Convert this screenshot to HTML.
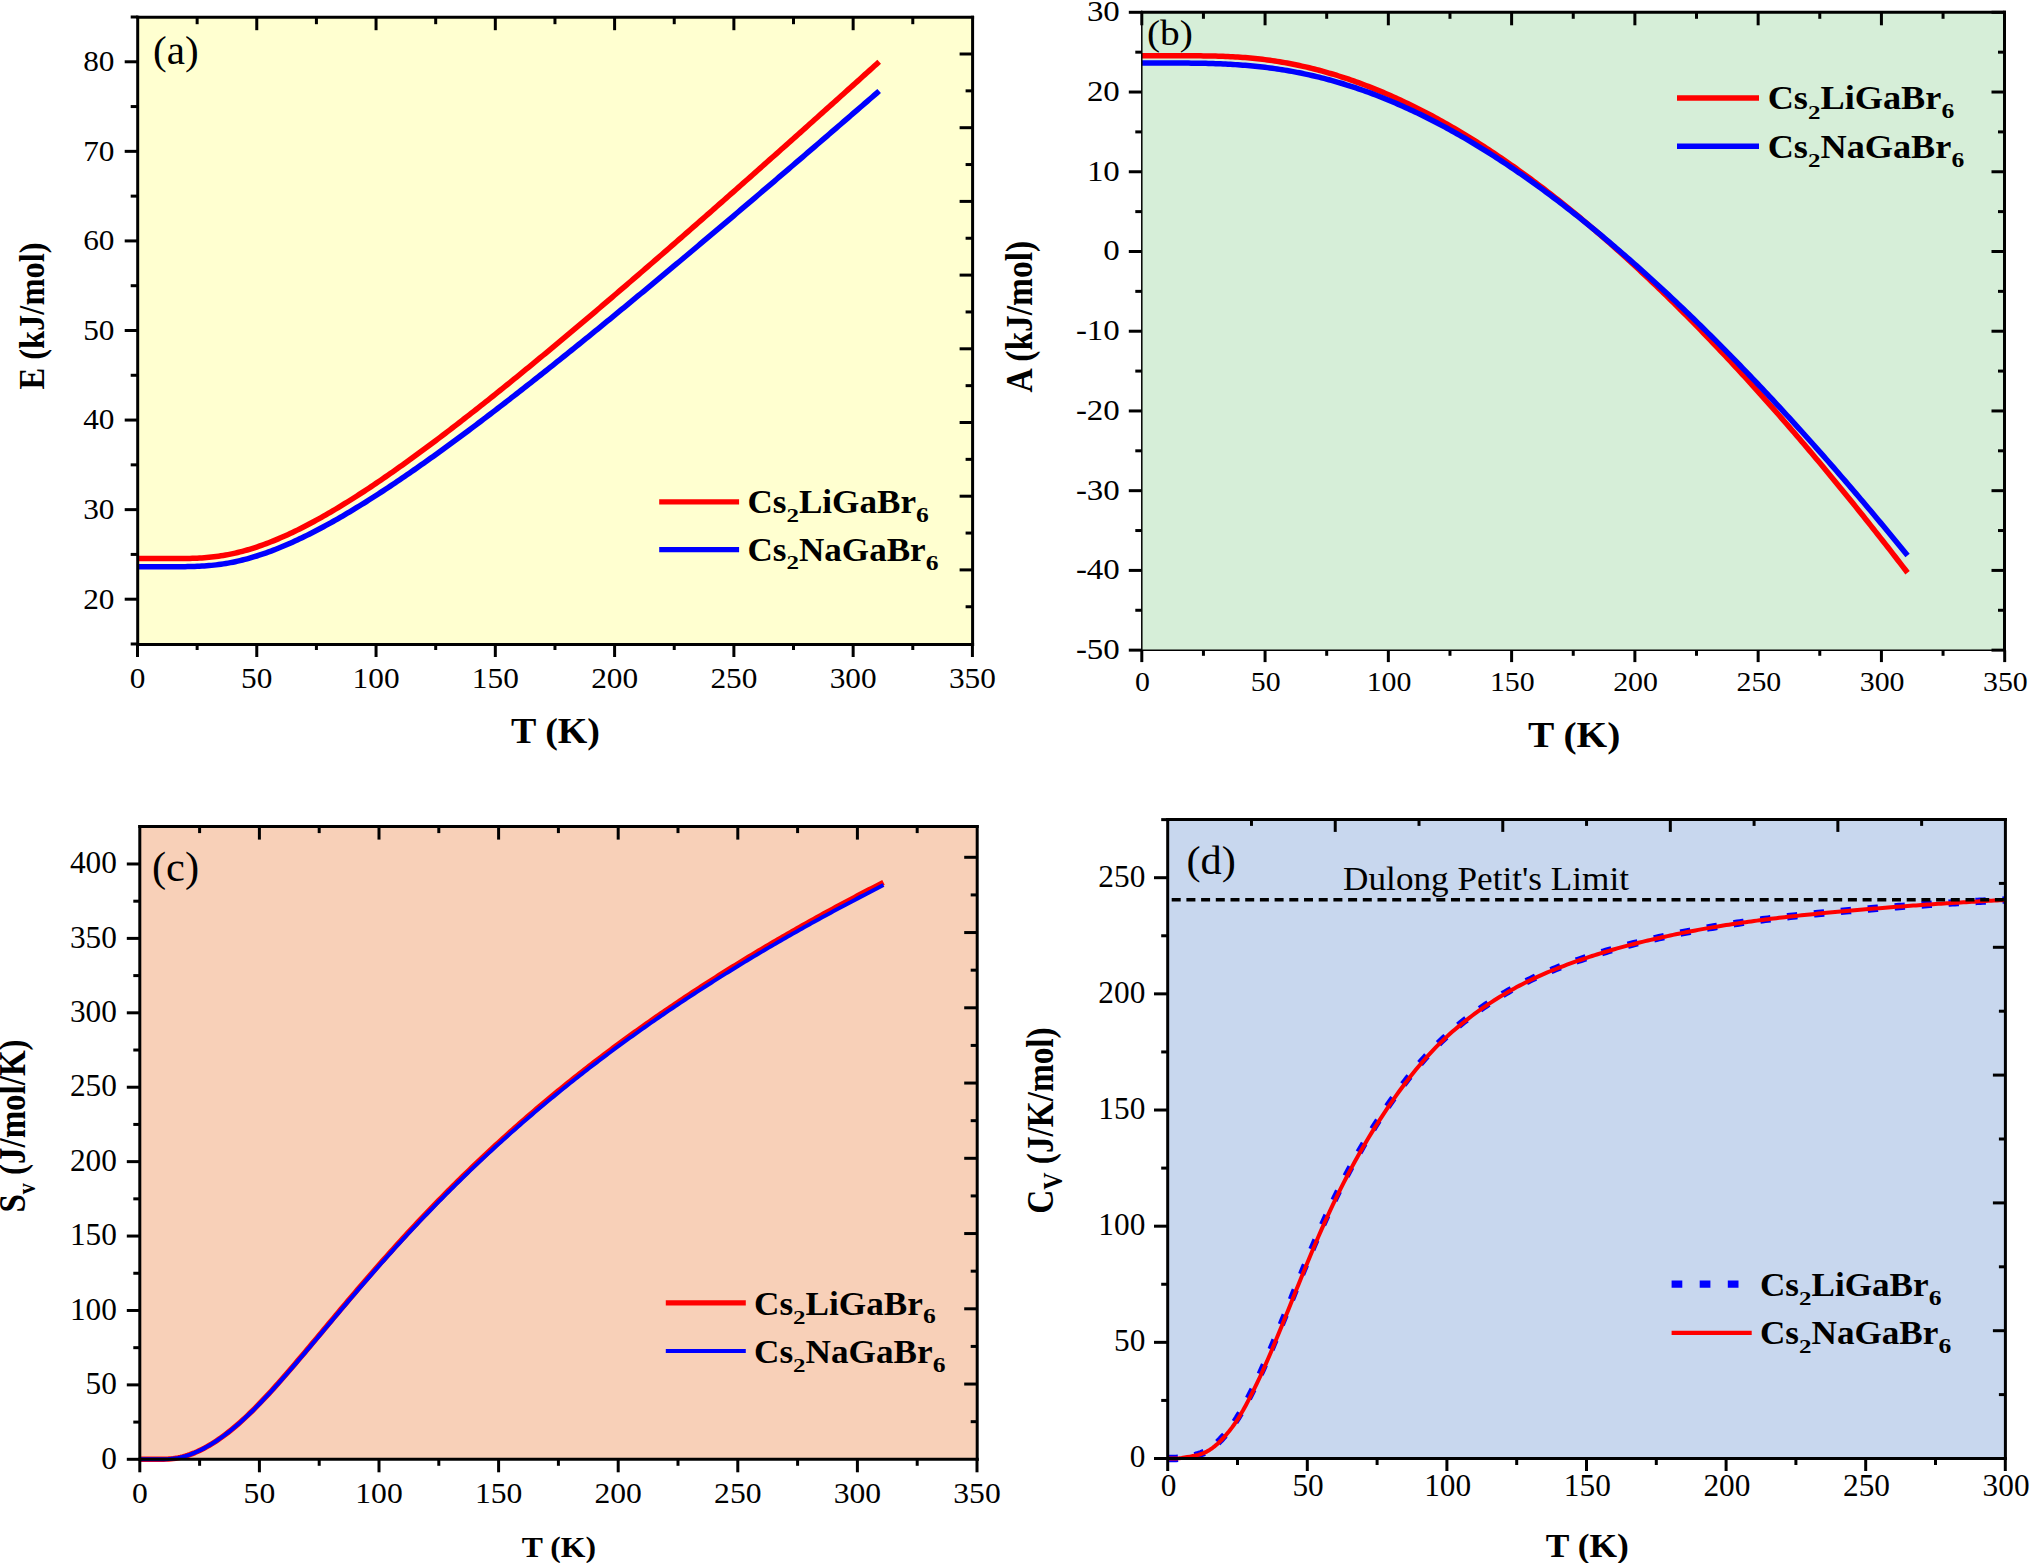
<!DOCTYPE html>
<html><head><meta charset="utf-8"><title>Thermodynamic properties</title><style>html,body{margin:0;padding:0;background:#fff;}svg{display:block;}</style></head><body><svg width="2029" height="1563" viewBox="0 0 2029 1563" font-family="'Liberation Serif', 'Times New Roman', serif" fill="#000">
<rect x="137.7" y="17.2" width="834.9" height="627.2" fill="#ffffd0"/>
<path d="M137.5 558.55 L139.88 558.55 L142.27 558.55 L144.65 558.55 L147.04 558.55 L149.42 558.55 L151.81 558.55 L154.19 558.55 L156.58 558.55 L158.96 558.55 L161.35 558.55 L163.73 558.55 L166.12 558.55 L168.5 558.55 L170.89 558.55 L173.27 558.55 L175.66 558.54 L178.04 558.53 L180.43 558.52 L182.81 558.5 L185.19 558.47 L187.58 558.43 L189.96 558.38 L192.35 558.32 L194.73 558.24 L197.12 558.14 L199.5 558.02 L201.89 557.88 L204.27 557.71 L206.66 557.52 L209.04 557.31 L211.43 557.07 L213.81 556.8 L216.2 556.51 L218.58 556.18 L220.97 555.83 L223.35 555.44 L225.74 555.03 L228.12 554.59 L230.5 554.12 L232.89 553.61 L235.27 553.08 L237.66 552.52 L240.04 551.93 L242.43 551.31 L244.81 550.67 L247.2 549.99 L249.58 549.29 L251.97 548.56 L254.35 547.8 L256.74 547.02 L259.12 546.21 L261.51 545.37 L263.89 544.51 L266.28 543.63 L268.66 542.72 L271.05 541.79 L273.43 540.83 L275.81 539.86 L278.2 538.86 L280.58 537.83 L282.97 536.79 L285.35 535.73 L287.74 534.64 L290.12 533.54 L292.51 532.41 L294.89 531.27 L297.28 530.11 L299.66 528.93 L302.05 527.73 L304.43 526.51 L306.82 525.28 L309.2 524.03 L311.59 522.76 L313.97 521.47 L316.35 520.17 L318.74 518.86 L321.12 517.53 L323.51 516.18 L325.89 514.82 L328.28 513.45 L330.66 512.06 L333.05 510.66 L335.43 509.25 L337.82 507.82 L340.2 506.38 L342.59 504.92 L344.97 503.46 L347.36 501.98 L349.74 500.49 L352.13 498.99 L354.51 497.48 L356.9 495.95 L359.28 494.42 L361.66 492.87 L364.05 491.32 L366.43 489.75 L368.82 488.17 L371.2 486.59 L373.59 484.99 L375.97 483.39 L378.36 481.77 L380.74 480.15 L383.13 478.52 L385.51 476.88 L387.9 475.23 L390.28 473.57 L392.67 471.91 L395.05 470.23 L397.44 468.55 L399.82 466.86 L402.21 465.16 L404.59 463.46 L406.97 461.75 L409.36 460.03 L411.74 458.3 L414.13 456.57 L416.51 454.83 L418.9 453.08 L421.28 451.33 L423.67 449.57 L426.05 447.81 L428.44 446.04 L430.82 444.26 L433.21 442.47 L435.59 440.69 L437.98 438.89 L440.36 437.09 L442.75 435.28 L445.13 433.47 L447.52 431.65 L449.9 429.83 L452.28 428 L454.67 426.17 L457.05 424.33 L459.44 422.49 L461.82 420.65 L464.21 418.79 L466.59 416.94 L468.98 415.08 L471.36 413.21 L473.75 411.34 L476.13 409.47 L478.52 407.59 L480.9 405.71 L483.29 403.82 L485.67 401.93 L488.06 400.03 L490.44 398.14 L492.83 396.23 L495.21 394.33 L497.59 392.42 L499.98 390.5 L502.36 388.59 L504.75 386.67 L507.13 384.74 L509.52 382.81 L511.9 380.88 L514.29 378.95 L516.67 377.01 L519.06 375.07 L521.44 373.13 L523.83 371.18 L526.21 369.23 L528.6 367.28 L530.98 365.32 L533.37 363.36 L535.75 361.4 L538.14 359.43 L540.52 357.47 L542.9 355.5 L545.29 353.52 L547.67 351.55 L550.06 349.57 L552.44 347.59 L554.83 345.6 L557.21 343.62 L559.6 341.63 L561.98 339.64 L564.37 337.65 L566.75 335.65 L569.14 333.65 L571.52 331.65 L573.91 329.65 L576.29 327.64 L578.68 325.64 L581.06 323.63 L583.45 321.62 L585.83 319.6 L588.21 317.59 L590.6 315.57 L592.98 313.55 L595.37 311.53 L597.75 309.5 L600.14 307.48 L602.52 305.45 L604.91 303.42 L607.29 301.39 L609.68 299.35 L612.06 297.32 L614.45 295.28 L616.83 293.24 L619.22 291.2 L621.6 289.16 L623.99 287.12 L626.37 285.07 L628.75 283.02 L631.14 280.98 L633.52 278.93 L635.91 276.87 L638.29 274.82 L640.68 272.76 L643.06 270.71 L645.45 268.65 L647.83 266.59 L650.22 264.53 L652.6 262.47 L654.99 260.4 L657.37 258.34 L659.76 256.27 L662.14 254.2 L664.53 252.13 L666.91 250.06 L669.3 247.99 L671.68 245.91 L674.06 243.84 L676.45 241.76 L678.83 239.68 L681.22 237.61 L683.6 235.53 L685.99 233.44 L688.37 231.36 L690.76 229.28 L693.14 227.19 L695.53 225.11 L697.91 223.02 L700.3 220.93 L702.68 218.84 L705.07 216.75 L707.45 214.66 L709.84 212.57 L712.22 210.47 L714.61 208.38 L716.99 206.28 L719.37 204.18 L721.76 202.08 L724.14 199.99 L726.53 197.89 L728.91 195.78 L731.3 193.68 L733.68 191.58 L736.07 189.47 L738.45 187.37 L740.84 185.26 L743.22 183.16 L745.61 181.05 L747.99 178.94 L750.38 176.83 L752.76 174.72 L755.15 172.61 L757.53 170.49 L759.92 168.38 L762.3 166.27 L764.68 164.15 L767.07 162.04 L769.45 159.92 L771.84 157.8 L774.22 155.68 L776.61 153.57 L778.99 151.45 L781.38 149.32 L783.76 147.2 L786.15 145.08 L788.53 142.96 L790.92 140.83 L793.3 138.71 L795.69 136.58 L798.07 134.46 L800.46 132.33 L802.84 130.2 L805.23 128.08 L807.61 125.95 L809.99 123.82 L812.38 121.69 L814.76 119.56 L817.15 117.43 L819.53 115.29 L821.92 113.16 L824.3 111.03 L826.69 108.89 L829.07 106.76 L831.46 104.62 L833.84 102.49 L836.23 100.35 L838.61 98.21 L841 96.07 L843.38 93.94 L845.77 91.8 L848.15 89.66 L850.54 87.52 L852.92 85.38 L855.3 83.23 L857.69 81.09 L860.07 78.95 L862.46 76.81 L864.84 74.66 L867.23 72.52 L869.61 70.37 L872 68.23 L874.38 66.08 L876.77 63.93 L879.15 61.79" fill="none" stroke="#ff0000" stroke-width="5.5" stroke-linejoin="round"/>
<path d="M137.5 566.7 L139.88 566.7 L142.27 566.7 L144.65 566.7 L147.04 566.7 L149.42 566.7 L151.81 566.7 L154.19 566.7 L156.58 566.7 L158.96 566.7 L161.35 566.7 L163.73 566.7 L166.12 566.7 L168.5 566.7 L170.89 566.7 L173.27 566.7 L175.66 566.69 L178.04 566.68 L180.43 566.67 L182.81 566.66 L185.19 566.63 L187.58 566.6 L189.96 566.55 L192.35 566.5 L194.73 566.43 L197.12 566.34 L199.5 566.23 L201.89 566.11 L204.27 565.96 L206.66 565.79 L209.04 565.6 L211.43 565.38 L213.81 565.13 L216.2 564.86 L218.58 564.56 L220.97 564.24 L223.35 563.88 L225.74 563.5 L228.12 563.09 L230.5 562.65 L232.89 562.18 L235.27 561.69 L237.66 561.16 L240.04 560.61 L242.43 560.03 L244.81 559.43 L247.2 558.79 L249.58 558.13 L251.97 557.45 L254.35 556.73 L256.74 556 L259.12 555.23 L261.51 554.45 L263.89 553.63 L266.28 552.8 L268.66 551.94 L271.05 551.06 L273.43 550.15 L275.81 549.23 L278.2 548.28 L280.58 547.31 L282.97 546.32 L285.35 545.32 L287.74 544.29 L290.12 543.24 L292.51 542.17 L294.89 541.09 L297.28 539.98 L299.66 538.86 L302.05 537.72 L304.43 536.56 L306.82 535.39 L309.2 534.2 L311.59 533 L313.97 531.78 L316.35 530.54 L318.74 529.29 L321.12 528.02 L323.51 526.74 L325.89 525.45 L328.28 524.14 L330.66 522.82 L333.05 521.49 L335.43 520.14 L337.82 518.78 L340.2 517.41 L342.59 516.02 L344.97 514.62 L347.36 513.22 L349.74 511.8 L352.13 510.37 L354.51 508.92 L356.9 507.47 L359.28 506.01 L361.66 504.53 L364.05 503.05 L366.43 501.56 L368.82 500.05 L371.2 498.54 L373.59 497.02 L375.97 495.49 L378.36 493.95 L380.74 492.4 L383.13 490.84 L385.51 489.28 L387.9 487.7 L390.28 486.12 L392.67 484.53 L395.05 482.93 L397.44 481.32 L399.82 479.71 L402.21 478.09 L404.59 476.46 L406.97 474.83 L409.36 473.19 L411.74 471.54 L414.13 469.88 L416.51 468.22 L418.9 466.55 L421.28 464.87 L423.67 463.19 L426.05 461.51 L428.44 459.81 L430.82 458.11 L433.21 456.41 L435.59 454.7 L437.98 452.98 L440.36 451.26 L442.75 449.53 L445.13 447.8 L447.52 446.06 L449.9 444.32 L452.28 442.57 L454.67 440.81 L457.05 439.06 L459.44 437.29 L461.82 435.53 L464.21 433.75 L466.59 431.98 L468.98 430.2 L471.36 428.41 L473.75 426.62 L476.13 424.83 L478.52 423.03 L480.9 421.23 L483.29 419.42 L485.67 417.61 L488.06 415.8 L490.44 413.98 L492.83 412.16 L495.21 410.33 L497.59 408.5 L499.98 406.67 L502.36 404.83 L504.75 402.99 L507.13 401.15 L509.52 399.3 L511.9 397.45 L514.29 395.6 L516.67 393.74 L519.06 391.88 L521.44 390.02 L523.83 388.15 L526.21 386.29 L528.6 384.41 L530.98 382.54 L533.37 380.66 L535.75 378.78 L538.14 376.9 L540.52 375.01 L542.9 373.12 L545.29 371.23 L547.67 369.34 L550.06 367.44 L552.44 365.54 L554.83 363.64 L557.21 361.73 L559.6 359.83 L561.98 357.92 L564.37 356.01 L566.75 354.09 L569.14 352.18 L571.52 350.26 L573.91 348.34 L576.29 346.41 L578.68 344.49 L581.06 342.56 L583.45 340.63 L585.83 338.7 L588.21 336.77 L590.6 334.83 L592.98 332.89 L595.37 330.95 L597.75 329.01 L600.14 327.07 L602.52 325.12 L604.91 323.17 L607.29 321.22 L609.68 319.27 L612.06 317.32 L614.45 315.37 L616.83 313.41 L619.22 311.45 L621.6 309.49 L623.99 307.53 L626.37 305.57 L628.75 303.6 L631.14 301.63 L633.52 299.67 L635.91 297.7 L638.29 295.72 L640.68 293.75 L643.06 291.78 L645.45 289.8 L647.83 287.82 L650.22 285.84 L652.6 283.86 L654.99 281.88 L657.37 279.9 L659.76 277.91 L662.14 275.93 L664.53 273.94 L666.91 271.95 L669.3 269.96 L671.68 267.97 L674.06 265.98 L676.45 263.98 L678.83 261.99 L681.22 259.99 L683.6 257.99 L685.99 256 L688.37 254 L690.76 251.99 L693.14 249.99 L695.53 247.99 L697.91 245.98 L700.3 243.98 L702.68 241.97 L705.07 239.96 L707.45 237.95 L709.84 235.94 L712.22 233.93 L714.61 231.92 L716.99 229.9 L719.37 227.89 L721.76 225.87 L724.14 223.86 L726.53 221.84 L728.91 219.82 L731.3 217.8 L733.68 215.78 L736.07 213.76 L738.45 211.73 L740.84 209.71 L743.22 207.69 L745.61 205.66 L747.99 203.63 L750.38 201.61 L752.76 199.58 L755.15 197.55 L757.53 195.52 L759.92 193.49 L762.3 191.46 L764.68 189.42 L767.07 187.39 L769.45 185.36 L771.84 183.32 L774.22 181.29 L776.61 179.25 L778.99 177.21 L781.38 175.17 L783.76 173.14 L786.15 171.1 L788.53 169.06 L790.92 167.01 L793.3 164.97 L795.69 162.93 L798.07 160.89 L800.46 158.84 L802.84 156.8 L805.23 154.75 L807.61 152.7 L809.99 150.66 L812.38 148.61 L814.76 146.56 L817.15 144.51 L819.53 142.46 L821.92 140.41 L824.3 138.36 L826.69 136.31 L829.07 134.26 L831.46 132.2 L833.84 130.15 L836.23 128.1 L838.61 126.04 L841 123.99 L843.38 121.93 L845.77 119.87 L848.15 117.82 L850.54 115.76 L852.92 113.7 L855.3 111.64 L857.69 109.58 L860.07 107.52 L862.46 105.46 L864.84 103.4 L867.23 101.34 L869.61 99.27 L872 97.21 L874.38 95.15 L876.77 93.08 L879.15 91.02" fill="none" stroke="#0000ff" stroke-width="5.5" stroke-linejoin="round"/>
<line x1="137.7" y1="15.7" x2="137.7" y2="645.9" stroke="#000" stroke-width="3"/>
<line x1="972.6" y1="15.7" x2="972.6" y2="645.9" stroke="#000" stroke-width="3"/>
<line x1="136.2" y1="17.2" x2="974.1" y2="17.2" stroke="#000" stroke-width="3"/>
<line x1="136.2" y1="644.4" x2="974.1" y2="644.4" stroke="#000" stroke-width="3"/>
<line x1="130.7" y1="643.99" x2="137.7" y2="643.99" stroke="#000" stroke-width="3"/>
<line x1="124.7" y1="599.2" x2="137.7" y2="599.2" stroke="#000" stroke-width="3"/>
<line x1="130.7" y1="554.42" x2="137.7" y2="554.42" stroke="#000" stroke-width="3"/>
<line x1="124.7" y1="509.63" x2="137.7" y2="509.63" stroke="#000" stroke-width="3"/>
<line x1="130.7" y1="464.85" x2="137.7" y2="464.85" stroke="#000" stroke-width="3"/>
<line x1="124.7" y1="420.06" x2="137.7" y2="420.06" stroke="#000" stroke-width="3"/>
<line x1="130.7" y1="375.28" x2="137.7" y2="375.28" stroke="#000" stroke-width="3"/>
<line x1="124.7" y1="330.49" x2="137.7" y2="330.49" stroke="#000" stroke-width="3"/>
<line x1="130.7" y1="285.71" x2="137.7" y2="285.71" stroke="#000" stroke-width="3"/>
<line x1="124.7" y1="240.92" x2="137.7" y2="240.92" stroke="#000" stroke-width="3"/>
<line x1="130.7" y1="196.13" x2="137.7" y2="196.13" stroke="#000" stroke-width="3"/>
<line x1="124.7" y1="151.35" x2="137.7" y2="151.35" stroke="#000" stroke-width="3"/>
<line x1="130.7" y1="106.56" x2="137.7" y2="106.56" stroke="#000" stroke-width="3"/>
<line x1="124.7" y1="61.78" x2="137.7" y2="61.78" stroke="#000" stroke-width="3"/>
<line x1="130.7" y1="17" x2="137.7" y2="17" stroke="#000" stroke-width="3"/>
<line x1="965.6" y1="606.75" x2="972.6" y2="606.75" stroke="#000" stroke-width="3"/>
<line x1="959.6" y1="569.9" x2="972.6" y2="569.9" stroke="#000" stroke-width="3"/>
<line x1="965.6" y1="533.05" x2="972.6" y2="533.05" stroke="#000" stroke-width="3"/>
<line x1="959.6" y1="496.2" x2="972.6" y2="496.2" stroke="#000" stroke-width="3"/>
<line x1="965.6" y1="459.35" x2="972.6" y2="459.35" stroke="#000" stroke-width="3"/>
<line x1="959.6" y1="422.5" x2="972.6" y2="422.5" stroke="#000" stroke-width="3"/>
<line x1="965.6" y1="385.65" x2="972.6" y2="385.65" stroke="#000" stroke-width="3"/>
<line x1="959.6" y1="348.8" x2="972.6" y2="348.8" stroke="#000" stroke-width="3"/>
<line x1="965.6" y1="311.95" x2="972.6" y2="311.95" stroke="#000" stroke-width="3"/>
<line x1="959.6" y1="275.1" x2="972.6" y2="275.1" stroke="#000" stroke-width="3"/>
<line x1="965.6" y1="238.25" x2="972.6" y2="238.25" stroke="#000" stroke-width="3"/>
<line x1="959.6" y1="201.4" x2="972.6" y2="201.4" stroke="#000" stroke-width="3"/>
<line x1="965.6" y1="164.55" x2="972.6" y2="164.55" stroke="#000" stroke-width="3"/>
<line x1="959.6" y1="127.7" x2="972.6" y2="127.7" stroke="#000" stroke-width="3"/>
<line x1="965.6" y1="90.85" x2="972.6" y2="90.85" stroke="#000" stroke-width="3"/>
<line x1="959.6" y1="54" x2="972.6" y2="54" stroke="#000" stroke-width="3"/>
<line x1="137.5" y1="644.4" x2="137.5" y2="657" stroke="#000" stroke-width="3"/>
<line x1="197.14" y1="644.4" x2="197.14" y2="650" stroke="#000" stroke-width="3"/>
<line x1="256.77" y1="644.4" x2="256.77" y2="657" stroke="#000" stroke-width="3"/>
<line x1="316.41" y1="644.4" x2="316.41" y2="650" stroke="#000" stroke-width="3"/>
<line x1="376.05" y1="644.4" x2="376.05" y2="657" stroke="#000" stroke-width="3"/>
<line x1="435.69" y1="644.4" x2="435.69" y2="650" stroke="#000" stroke-width="3"/>
<line x1="495.32" y1="644.4" x2="495.32" y2="657" stroke="#000" stroke-width="3"/>
<line x1="554.96" y1="644.4" x2="554.96" y2="650" stroke="#000" stroke-width="3"/>
<line x1="614.6" y1="644.4" x2="614.6" y2="657" stroke="#000" stroke-width="3"/>
<line x1="674.24" y1="644.4" x2="674.24" y2="650" stroke="#000" stroke-width="3"/>
<line x1="733.88" y1="644.4" x2="733.88" y2="657" stroke="#000" stroke-width="3"/>
<line x1="793.51" y1="644.4" x2="793.51" y2="650" stroke="#000" stroke-width="3"/>
<line x1="853.15" y1="644.4" x2="853.15" y2="657" stroke="#000" stroke-width="3"/>
<line x1="912.79" y1="644.4" x2="912.79" y2="650" stroke="#000" stroke-width="3"/>
<line x1="972.42" y1="644.4" x2="972.42" y2="657" stroke="#000" stroke-width="3"/>
<line x1="197.14" y1="17.2" x2="197.14" y2="24.2" stroke="#000" stroke-width="3"/>
<line x1="256.77" y1="17.2" x2="256.77" y2="30.2" stroke="#000" stroke-width="3"/>
<line x1="316.41" y1="17.2" x2="316.41" y2="24.2" stroke="#000" stroke-width="3"/>
<line x1="376.05" y1="17.2" x2="376.05" y2="30.2" stroke="#000" stroke-width="3"/>
<line x1="435.69" y1="17.2" x2="435.69" y2="24.2" stroke="#000" stroke-width="3"/>
<line x1="495.32" y1="17.2" x2="495.32" y2="30.2" stroke="#000" stroke-width="3"/>
<line x1="554.96" y1="17.2" x2="554.96" y2="24.2" stroke="#000" stroke-width="3"/>
<line x1="614.6" y1="17.2" x2="614.6" y2="30.2" stroke="#000" stroke-width="3"/>
<line x1="674.24" y1="17.2" x2="674.24" y2="24.2" stroke="#000" stroke-width="3"/>
<line x1="733.88" y1="17.2" x2="733.88" y2="30.2" stroke="#000" stroke-width="3"/>
<line x1="793.51" y1="17.2" x2="793.51" y2="24.2" stroke="#000" stroke-width="3"/>
<line x1="853.15" y1="17.2" x2="853.15" y2="30.2" stroke="#000" stroke-width="3"/>
<line x1="912.79" y1="17.2" x2="912.79" y2="24.2" stroke="#000" stroke-width="3"/>
<text transform="translate(114.5,608.6) scale(1.03,1)" font-size="30.4" text-anchor="end" >20</text>
<text transform="translate(114.5,519.03) scale(1.03,1)" font-size="30.4" text-anchor="end" >30</text>
<text transform="translate(114.5,429.46) scale(1.03,1)" font-size="30.4" text-anchor="end" >40</text>
<text transform="translate(114.5,339.89) scale(1.03,1)" font-size="30.4" text-anchor="end" >50</text>
<text transform="translate(114.5,250.32) scale(1.03,1)" font-size="30.4" text-anchor="end" >60</text>
<text transform="translate(114.5,160.75) scale(1.03,1)" font-size="30.4" text-anchor="end" >70</text>
<text transform="translate(114.5,71.18) scale(1.03,1)" font-size="30.4" text-anchor="end" >80</text>
<text transform="translate(137.5,687.5) scale(1.03,1)" font-size="30.4" text-anchor="middle" >0</text>
<text transform="translate(256.77,687.5) scale(1.03,1)" font-size="30.4" text-anchor="middle" >50</text>
<text transform="translate(376.05,687.5) scale(1.03,1)" font-size="30.4" text-anchor="middle" >100</text>
<text transform="translate(495.32,687.5) scale(1.03,1)" font-size="30.4" text-anchor="middle" >150</text>
<text transform="translate(614.6,687.5) scale(1.03,1)" font-size="30.4" text-anchor="middle" >200</text>
<text transform="translate(733.88,687.5) scale(1.03,1)" font-size="30.4" text-anchor="middle" >250</text>
<text transform="translate(853.15,687.5) scale(1.03,1)" font-size="30.4" text-anchor="middle" >300</text>
<text transform="translate(972.42,687.5) scale(1.03,1)" font-size="30.4" text-anchor="middle" >350</text>
<text transform="translate(153,63.8) scale(1.04,1)" font-size="39.5" text-anchor="start" >(a)</text>
<text transform="translate(44,316) rotate(-90) scale(1,1.12)" font-size="32.5" text-anchor="middle" font-weight="bold" >E (kJ/mol)</text>
<text transform="translate(555.5,743.1) scale(1.044,1)" font-size="36.4" text-anchor="middle" font-weight="bold" >T (K)</text>
<line x1="659.2" y1="501.8" x2="739.1" y2="501.8" stroke="#ff0000" stroke-width="5.3"/>
<line x1="659.2" y1="549.6" x2="739.1" y2="549.6" stroke="#0000ff" stroke-width="5.3"/>
<text transform="translate(747.4,513.3) scale(1.033,1)" font-size="34" text-anchor="start" font-weight="bold" >Cs</text>
<text transform="translate(786.43,521.7) scale(1.33,1)" font-size="18.8" text-anchor="start" font-weight="bold" >2</text>
<text transform="translate(798.94,513.3) scale(1.033,1)" font-size="34" text-anchor="start" font-weight="bold" >LiGaBr</text>
<text transform="translate(916.02,521.9) scale(1.2,1)" font-size="21.3" text-anchor="start" font-weight="bold" >6</text>
<text transform="translate(747.4,561) scale(1.033,1)" font-size="34" text-anchor="start" font-weight="bold" >Cs</text>
<text transform="translate(786.43,569.4) scale(1.33,1)" font-size="18.8" text-anchor="start" font-weight="bold" >2</text>
<text transform="translate(798.94,561) scale(1.033,1)" font-size="34" text-anchor="start" font-weight="bold" >NaGaBr</text>
<text transform="translate(925.76,569.6) scale(1.2,1)" font-size="21.3" text-anchor="start" font-weight="bold" >6</text>
<rect x="1141.8" y="12.3" width="862.7" height="638" fill="#d6eed8"/>
<path d="M1141.8 55.79 L1144.26 55.79 L1146.72 55.79 L1149.19 55.79 L1151.65 55.79 L1154.11 55.79 L1156.57 55.79 L1159.04 55.79 L1161.5 55.79 L1163.96 55.79 L1166.42 55.79 L1168.88 55.79 L1171.35 55.79 L1173.81 55.79 L1176.27 55.79 L1178.73 55.79 L1181.2 55.79 L1183.66 55.79 L1186.12 55.79 L1188.58 55.8 L1191.04 55.8 L1193.51 55.81 L1195.97 55.82 L1198.43 55.84 L1200.89 55.86 L1203.36 55.88 L1205.82 55.91 L1208.28 55.94 L1210.74 55.99 L1213.2 56.03 L1215.67 56.09 L1218.13 56.16 L1220.59 56.23 L1223.05 56.32 L1225.52 56.41 L1227.98 56.52 L1230.44 56.63 L1232.9 56.76 L1235.36 56.9 L1237.83 57.05 L1240.29 57.22 L1242.75 57.4 L1245.21 57.59 L1247.68 57.79 L1250.14 58.01 L1252.6 58.25 L1255.06 58.49 L1257.52 58.76 L1259.99 59.03 L1262.45 59.32 L1264.91 59.63 L1267.37 59.95 L1269.84 60.29 L1272.3 60.64 L1274.76 61.01 L1277.22 61.39 L1279.68 61.79 L1282.15 62.2 L1284.61 62.63 L1287.07 63.07 L1289.53 63.54 L1292 64.01 L1294.46 64.5 L1296.92 65.01 L1299.38 65.53 L1301.84 66.07 L1304.31 66.62 L1306.77 67.19 L1309.23 67.78 L1311.69 68.38 L1314.16 68.99 L1316.62 69.63 L1319.08 70.27 L1321.54 70.94 L1324 71.61 L1326.47 72.31 L1328.93 73.02 L1331.39 73.74 L1333.85 74.48 L1336.32 75.23 L1338.78 76 L1341.24 76.79 L1343.7 77.59 L1346.17 78.4 L1348.63 79.23 L1351.09 80.08 L1353.55 80.94 L1356.01 81.81 L1358.48 82.7 L1360.94 83.6 L1363.4 84.52 L1365.86 85.46 L1368.33 86.4 L1370.79 87.37 L1373.25 88.34 L1375.71 89.34 L1378.17 90.34 L1380.64 91.36 L1383.1 92.4 L1385.56 93.45 L1388.02 94.51 L1390.49 95.59 L1392.95 96.68 L1395.41 97.79 L1397.87 98.91 L1400.33 100.05 L1402.8 101.19 L1405.26 102.36 L1407.72 103.53 L1410.18 104.72 L1412.65 105.93 L1415.11 107.15 L1417.57 108.38 L1420.03 109.62 L1422.49 110.88 L1424.96 112.15 L1427.42 113.44 L1429.88 114.74 L1432.34 116.05 L1434.81 117.38 L1437.27 118.72 L1439.73 120.07 L1442.19 121.44 L1444.65 122.82 L1447.12 124.21 L1449.58 125.61 L1452.04 127.03 L1454.5 128.47 L1456.97 129.91 L1459.43 131.37 L1461.89 132.84 L1464.35 134.32 L1466.81 135.82 L1469.28 137.33 L1471.74 138.85 L1474.2 140.38 L1476.66 141.93 L1479.13 143.49 L1481.59 145.06 L1484.05 146.65 L1486.51 148.24 L1488.97 149.85 L1491.44 151.47 L1493.9 153.11 L1496.36 154.76 L1498.82 156.41 L1501.29 158.08 L1503.75 159.77 L1506.21 161.46 L1508.67 163.17 L1511.13 164.89 L1513.6 166.62 L1516.06 168.36 L1518.52 170.12 L1520.98 171.88 L1523.45 173.66 L1525.91 175.45 L1528.37 177.25 L1530.83 179.07 L1533.29 180.89 L1535.76 182.73 L1538.22 184.58 L1540.68 186.44 L1543.14 188.31 L1545.61 190.19 L1548.07 192.09 L1550.53 193.99 L1552.99 195.91 L1555.45 197.84 L1557.92 199.77 L1560.38 201.73 L1562.84 203.69 L1565.3 205.66 L1567.77 207.64 L1570.23 209.64 L1572.69 211.64 L1575.15 213.66 L1577.61 215.69 L1580.08 217.73 L1582.54 219.78 L1585 221.84 L1587.46 223.91 L1589.93 225.99 L1592.39 228.08 L1594.85 230.18 L1597.31 232.3 L1599.77 234.42 L1602.24 236.56 L1604.7 238.7 L1607.16 240.86 L1609.62 243.02 L1612.09 245.2 L1614.55 247.39 L1617.01 249.58 L1619.47 251.79 L1621.93 254.01 L1624.4 256.24 L1626.86 258.48 L1629.32 260.72 L1631.78 262.98 L1634.25 265.25 L1636.71 267.53 L1639.17 269.82 L1641.63 272.12 L1644.09 274.43 L1646.56 276.74 L1649.02 279.07 L1651.48 281.41 L1653.94 283.76 L1656.41 286.12 L1658.87 288.48 L1661.33 290.86 L1663.79 293.25 L1666.25 295.64 L1668.72 298.05 L1671.18 300.47 L1673.64 302.89 L1676.1 305.33 L1678.57 307.77 L1681.03 310.22 L1683.49 312.69 L1685.95 315.16 L1688.41 317.64 L1690.88 320.13 L1693.34 322.63 L1695.8 325.14 L1698.26 327.66 L1700.73 330.19 L1703.19 332.73 L1705.65 335.28 L1708.11 337.83 L1710.57 340.4 L1713.04 342.97 L1715.5 345.55 L1717.96 348.15 L1720.42 350.75 L1722.89 353.36 L1725.35 355.98 L1727.81 358.6 L1730.27 361.24 L1732.73 363.89 L1735.2 366.54 L1737.66 369.2 L1740.12 371.88 L1742.58 374.56 L1745.05 377.25 L1747.51 379.94 L1749.97 382.65 L1752.43 385.37 L1754.9 388.09 L1757.36 390.82 L1759.82 393.56 L1762.28 396.31 L1764.74 399.07 L1767.21 401.84 L1769.67 404.61 L1772.13 407.4 L1774.59 410.19 L1777.06 412.99 L1779.52 415.8 L1781.98 418.61 L1784.44 421.44 L1786.9 424.27 L1789.37 427.11 L1791.83 429.96 L1794.29 432.82 L1796.75 435.69 L1799.22 438.56 L1801.68 441.45 L1804.14 444.34 L1806.6 447.23 L1809.06 450.14 L1811.53 453.06 L1813.99 455.98 L1816.45 458.91 L1818.91 461.85 L1821.38 464.79 L1823.84 467.75 L1826.3 470.71 L1828.76 473.68 L1831.22 476.66 L1833.69 479.64 L1836.15 482.64 L1838.61 485.64 L1841.07 488.65 L1843.54 491.67 L1846 494.69 L1848.46 497.72 L1850.92 500.76 L1853.38 503.81 L1855.85 506.86 L1858.31 509.93 L1860.77 513 L1863.23 516.08 L1865.7 519.16 L1868.16 522.25 L1870.62 525.35 L1873.08 528.46 L1875.54 531.58 L1878.01 534.7 L1880.47 537.83 L1882.93 540.97 L1885.39 544.11 L1887.86 547.26 L1890.32 550.42 L1892.78 553.59 L1895.24 556.76 L1897.7 559.95 L1900.17 563.13 L1902.63 566.33 L1905.09 569.53 L1907.55 572.74" fill="none" stroke="#ff0000" stroke-width="5.5" stroke-linejoin="round"/>
<path d="M1141.8 63.06 L1144.26 63.06 L1146.72 63.06 L1149.19 63.06 L1151.65 63.06 L1154.11 63.06 L1156.57 63.06 L1159.04 63.06 L1161.5 63.06 L1163.96 63.06 L1166.42 63.06 L1168.88 63.06 L1171.35 63.06 L1173.81 63.06 L1176.27 63.07 L1178.73 63.07 L1181.2 63.08 L1183.66 63.09 L1186.12 63.1 L1188.58 63.12 L1191.04 63.14 L1193.51 63.16 L1195.97 63.19 L1198.43 63.22 L1200.89 63.27 L1203.36 63.31 L1205.82 63.36 L1208.28 63.42 L1210.74 63.49 L1213.2 63.57 L1215.67 63.65 L1218.13 63.74 L1220.59 63.84 L1223.05 63.94 L1225.52 64.06 L1227.98 64.19 L1230.44 64.32 L1232.9 64.46 L1235.36 64.62 L1237.83 64.78 L1240.29 64.96 L1242.75 65.14 L1245.21 65.34 L1247.68 65.55 L1250.14 65.77 L1252.6 66 L1255.06 66.24 L1257.52 66.49 L1259.99 66.76 L1262.45 67.04 L1264.91 67.33 L1267.37 67.64 L1269.84 67.95 L1272.3 68.28 L1274.76 68.63 L1277.22 68.98 L1279.68 69.36 L1282.15 69.74 L1284.61 70.14 L1287.07 70.55 L1289.53 70.97 L1292 71.41 L1294.46 71.87 L1296.92 72.34 L1299.38 72.82 L1301.84 73.31 L1304.31 73.83 L1306.77 74.35 L1309.23 74.89 L1311.69 75.45 L1314.16 76.02 L1316.62 76.6 L1319.08 77.2 L1321.54 77.81 L1324 78.44 L1326.47 79.08 L1328.93 79.74 L1331.39 80.41 L1333.85 81.1 L1336.32 81.8 L1338.78 82.52 L1341.24 83.25 L1343.7 84 L1346.17 84.76 L1348.63 85.54 L1351.09 86.33 L1353.55 87.13 L1356.01 87.95 L1358.48 88.79 L1360.94 89.64 L1363.4 90.5 L1365.86 91.38 L1368.33 92.27 L1370.79 93.18 L1373.25 94.1 L1375.71 95.04 L1378.17 95.99 L1380.64 96.96 L1383.1 97.94 L1385.56 98.93 L1388.02 99.94 L1390.49 100.96 L1392.95 102 L1395.41 103.05 L1397.87 104.11 L1400.33 105.19 L1402.8 106.29 L1405.26 107.39 L1407.72 108.51 L1410.18 109.65 L1412.65 110.8 L1415.11 111.96 L1417.57 113.13 L1420.03 114.32 L1422.49 115.53 L1424.96 116.74 L1427.42 117.97 L1429.88 119.21 L1432.34 120.47 L1434.81 121.74 L1437.27 123.02 L1439.73 124.32 L1442.19 125.63 L1444.65 126.95 L1447.12 128.28 L1449.58 129.63 L1452.04 130.99 L1454.5 132.37 L1456.97 133.75 L1459.43 135.15 L1461.89 136.56 L1464.35 137.99 L1466.81 139.43 L1469.28 140.88 L1471.74 142.34 L1474.2 143.81 L1476.66 145.3 L1479.13 146.8 L1481.59 148.31 L1484.05 149.83 L1486.51 151.37 L1488.97 152.91 L1491.44 154.47 L1493.9 156.04 L1496.36 157.63 L1498.82 159.22 L1501.29 160.83 L1503.75 162.45 L1506.21 164.08 L1508.67 165.72 L1511.13 167.37 L1513.6 169.04 L1516.06 170.71 L1518.52 172.4 L1520.98 174.1 L1523.45 175.81 L1525.91 177.53 L1528.37 179.27 L1530.83 181.01 L1533.29 182.77 L1535.76 184.53 L1538.22 186.31 L1540.68 188.1 L1543.14 189.9 L1545.61 191.71 L1548.07 193.53 L1550.53 195.36 L1552.99 197.2 L1555.45 199.06 L1557.92 200.92 L1560.38 202.8 L1562.84 204.68 L1565.3 206.58 L1567.77 208.48 L1570.23 210.4 L1572.69 212.32 L1575.15 214.26 L1577.61 216.21 L1580.08 218.17 L1582.54 220.13 L1585 222.11 L1587.46 224.1 L1589.93 226.1 L1592.39 228.11 L1594.85 230.13 L1597.31 232.15 L1599.77 234.19 L1602.24 236.24 L1604.7 238.3 L1607.16 240.36 L1609.62 242.44 L1612.09 244.53 L1614.55 246.63 L1617.01 248.73 L1619.47 250.85 L1621.93 252.97 L1624.4 255.11 L1626.86 257.25 L1629.32 259.4 L1631.78 261.57 L1634.25 263.74 L1636.71 265.92 L1639.17 268.11 L1641.63 270.31 L1644.09 272.52 L1646.56 274.74 L1649.02 276.97 L1651.48 279.2 L1653.94 281.45 L1656.41 283.71 L1658.87 285.97 L1661.33 288.24 L1663.79 290.52 L1666.25 292.81 L1668.72 295.11 L1671.18 297.42 L1673.64 299.74 L1676.1 302.06 L1678.57 304.4 L1681.03 306.74 L1683.49 309.09 L1685.95 311.45 L1688.41 313.82 L1690.88 316.2 L1693.34 318.58 L1695.8 320.98 L1698.26 323.38 L1700.73 325.79 L1703.19 328.21 L1705.65 330.64 L1708.11 333.08 L1710.57 335.52 L1713.04 337.97 L1715.5 340.43 L1717.96 342.9 L1720.42 345.38 L1722.89 347.87 L1725.35 350.36 L1727.81 352.86 L1730.27 355.37 L1732.73 357.89 L1735.2 360.41 L1737.66 362.95 L1740.12 365.49 L1742.58 368.04 L1745.05 370.59 L1747.51 373.16 L1749.97 375.73 L1752.43 378.31 L1754.9 380.9 L1757.36 383.5 L1759.82 386.1 L1762.28 388.71 L1764.74 391.33 L1767.21 393.96 L1769.67 396.59 L1772.13 399.24 L1774.59 401.89 L1777.06 404.54 L1779.52 407.21 L1781.98 409.88 L1784.44 412.56 L1786.9 415.25 L1789.37 417.94 L1791.83 420.64 L1794.29 423.35 L1796.75 426.07 L1799.22 428.79 L1801.68 431.52 L1804.14 434.26 L1806.6 437.01 L1809.06 439.76 L1811.53 442.52 L1813.99 445.29 L1816.45 448.06 L1818.91 450.84 L1821.38 453.63 L1823.84 456.42 L1826.3 459.23 L1828.76 462.04 L1831.22 464.85 L1833.69 467.68 L1836.15 470.51 L1838.61 473.34 L1841.07 476.19 L1843.54 479.04 L1846 481.9 L1848.46 484.76 L1850.92 487.63 L1853.38 490.51 L1855.85 493.4 L1858.31 496.29 L1860.77 499.19 L1863.23 502.09 L1865.7 505 L1868.16 507.92 L1870.62 510.85 L1873.08 513.78 L1875.54 516.72 L1878.01 519.66 L1880.47 522.62 L1882.93 525.57 L1885.39 528.54 L1887.86 531.51 L1890.32 534.49 L1892.78 537.47 L1895.24 540.46 L1897.7 543.46 L1900.17 546.46 L1902.63 549.47 L1905.09 552.49 L1907.55 555.51" fill="none" stroke="#0000ff" stroke-width="5.5" stroke-linejoin="round"/>
<line x1="1141.8" y1="10.8" x2="1141.8" y2="651.05" stroke="#000" stroke-width="1.5"/>
<line x1="2004.5" y1="10.8" x2="2004.5" y2="651.05" stroke="#000" stroke-width="3"/>
<line x1="1141.05" y1="12.3" x2="2006" y2="12.3" stroke="#000" stroke-width="3"/>
<line x1="1141.05" y1="650.3" x2="2006" y2="650.3" stroke="#000" stroke-width="1.5"/>
<line x1="1128.8" y1="650.14" x2="1141.8" y2="650.14" stroke="#000" stroke-width="3"/>
<line x1="1135.3" y1="610.27" x2="1141.8" y2="610.27" stroke="#000" stroke-width="3"/>
<line x1="1128.8" y1="570.41" x2="1141.8" y2="570.41" stroke="#000" stroke-width="3"/>
<line x1="1135.3" y1="530.54" x2="1141.8" y2="530.54" stroke="#000" stroke-width="3"/>
<line x1="1128.8" y1="490.68" x2="1141.8" y2="490.68" stroke="#000" stroke-width="3"/>
<line x1="1135.3" y1="450.81" x2="1141.8" y2="450.81" stroke="#000" stroke-width="3"/>
<line x1="1128.8" y1="410.95" x2="1141.8" y2="410.95" stroke="#000" stroke-width="3"/>
<line x1="1135.3" y1="371.08" x2="1141.8" y2="371.08" stroke="#000" stroke-width="3"/>
<line x1="1128.8" y1="331.22" x2="1141.8" y2="331.22" stroke="#000" stroke-width="3"/>
<line x1="1135.3" y1="291.36" x2="1141.8" y2="291.36" stroke="#000" stroke-width="3"/>
<line x1="1128.8" y1="251.49" x2="1141.8" y2="251.49" stroke="#000" stroke-width="3"/>
<line x1="1135.3" y1="211.62" x2="1141.8" y2="211.62" stroke="#000" stroke-width="3"/>
<line x1="1128.8" y1="171.76" x2="1141.8" y2="171.76" stroke="#000" stroke-width="3"/>
<line x1="1135.3" y1="131.9" x2="1141.8" y2="131.9" stroke="#000" stroke-width="3"/>
<line x1="1128.8" y1="92.03" x2="1141.8" y2="92.03" stroke="#000" stroke-width="3"/>
<line x1="1135.3" y1="52.17" x2="1141.8" y2="52.17" stroke="#000" stroke-width="3"/>
<line x1="1128.8" y1="12.3" x2="1141.8" y2="12.3" stroke="#000" stroke-width="3"/>
<line x1="1991.5" y1="650.14" x2="2004.5" y2="650.14" stroke="#000" stroke-width="3"/>
<line x1="1998" y1="610.27" x2="2004.5" y2="610.27" stroke="#000" stroke-width="3"/>
<line x1="1991.5" y1="570.41" x2="2004.5" y2="570.41" stroke="#000" stroke-width="3"/>
<line x1="1998" y1="530.54" x2="2004.5" y2="530.54" stroke="#000" stroke-width="3"/>
<line x1="1991.5" y1="490.68" x2="2004.5" y2="490.68" stroke="#000" stroke-width="3"/>
<line x1="1998" y1="450.81" x2="2004.5" y2="450.81" stroke="#000" stroke-width="3"/>
<line x1="1991.5" y1="410.95" x2="2004.5" y2="410.95" stroke="#000" stroke-width="3"/>
<line x1="1998" y1="371.08" x2="2004.5" y2="371.08" stroke="#000" stroke-width="3"/>
<line x1="1991.5" y1="331.22" x2="2004.5" y2="331.22" stroke="#000" stroke-width="3"/>
<line x1="1998" y1="291.36" x2="2004.5" y2="291.36" stroke="#000" stroke-width="3"/>
<line x1="1991.5" y1="251.49" x2="2004.5" y2="251.49" stroke="#000" stroke-width="3"/>
<line x1="1998" y1="211.62" x2="2004.5" y2="211.62" stroke="#000" stroke-width="3"/>
<line x1="1991.5" y1="171.76" x2="2004.5" y2="171.76" stroke="#000" stroke-width="3"/>
<line x1="1998" y1="131.9" x2="2004.5" y2="131.9" stroke="#000" stroke-width="3"/>
<line x1="1991.5" y1="92.03" x2="2004.5" y2="92.03" stroke="#000" stroke-width="3"/>
<line x1="1998" y1="52.17" x2="2004.5" y2="52.17" stroke="#000" stroke-width="3"/>
<line x1="1991.5" y1="12.3" x2="2004.5" y2="12.3" stroke="#000" stroke-width="3"/>
<line x1="1141.8" y1="650.3" x2="1141.8" y2="662.1" stroke="#000" stroke-width="3"/>
<line x1="1203.43" y1="650.3" x2="1203.43" y2="655.8" stroke="#000" stroke-width="3"/>
<line x1="1265.07" y1="650.3" x2="1265.07" y2="662.1" stroke="#000" stroke-width="3"/>
<line x1="1326.7" y1="650.3" x2="1326.7" y2="655.8" stroke="#000" stroke-width="3"/>
<line x1="1388.34" y1="650.3" x2="1388.34" y2="662.1" stroke="#000" stroke-width="3"/>
<line x1="1449.97" y1="650.3" x2="1449.97" y2="655.8" stroke="#000" stroke-width="3"/>
<line x1="1511.61" y1="650.3" x2="1511.61" y2="662.1" stroke="#000" stroke-width="3"/>
<line x1="1573.24" y1="650.3" x2="1573.24" y2="655.8" stroke="#000" stroke-width="3"/>
<line x1="1634.88" y1="650.3" x2="1634.88" y2="662.1" stroke="#000" stroke-width="3"/>
<line x1="1696.51" y1="650.3" x2="1696.51" y2="655.8" stroke="#000" stroke-width="3"/>
<line x1="1758.15" y1="650.3" x2="1758.15" y2="662.1" stroke="#000" stroke-width="3"/>
<line x1="1819.78" y1="650.3" x2="1819.78" y2="655.8" stroke="#000" stroke-width="3"/>
<line x1="1881.42" y1="650.3" x2="1881.42" y2="662.1" stroke="#000" stroke-width="3"/>
<line x1="1943.05" y1="650.3" x2="1943.05" y2="655.8" stroke="#000" stroke-width="3"/>
<line x1="2004.69" y1="650.3" x2="2004.69" y2="662.1" stroke="#000" stroke-width="3"/>
<line x1="1141.8" y1="12.3" x2="1141.8" y2="25.3" stroke="#000" stroke-width="3"/>
<line x1="1203.43" y1="12.3" x2="1203.43" y2="18.8" stroke="#000" stroke-width="3"/>
<line x1="1265.07" y1="12.3" x2="1265.07" y2="25.3" stroke="#000" stroke-width="3"/>
<line x1="1326.7" y1="12.3" x2="1326.7" y2="18.8" stroke="#000" stroke-width="3"/>
<line x1="1388.34" y1="12.3" x2="1388.34" y2="25.3" stroke="#000" stroke-width="3"/>
<line x1="1449.97" y1="12.3" x2="1449.97" y2="18.8" stroke="#000" stroke-width="3"/>
<line x1="1511.61" y1="12.3" x2="1511.61" y2="25.3" stroke="#000" stroke-width="3"/>
<line x1="1573.24" y1="12.3" x2="1573.24" y2="18.8" stroke="#000" stroke-width="3"/>
<line x1="1634.88" y1="12.3" x2="1634.88" y2="25.3" stroke="#000" stroke-width="3"/>
<line x1="1696.51" y1="12.3" x2="1696.51" y2="18.8" stroke="#000" stroke-width="3"/>
<line x1="1758.15" y1="12.3" x2="1758.15" y2="25.3" stroke="#000" stroke-width="3"/>
<line x1="1819.78" y1="12.3" x2="1819.78" y2="18.8" stroke="#000" stroke-width="3"/>
<line x1="1881.42" y1="12.3" x2="1881.42" y2="25.3" stroke="#000" stroke-width="3"/>
<line x1="1943.05" y1="12.3" x2="1943.05" y2="18.8" stroke="#000" stroke-width="3"/>
<text transform="translate(1119.8,659.14) scale(1.113,1)" font-size="29.6" text-anchor="end" >-50</text>
<text transform="translate(1119.8,579.41) scale(1.113,1)" font-size="29.6" text-anchor="end" >-40</text>
<text transform="translate(1119.8,499.68) scale(1.113,1)" font-size="29.6" text-anchor="end" >-30</text>
<text transform="translate(1119.8,419.95) scale(1.113,1)" font-size="29.6" text-anchor="end" >-20</text>
<text transform="translate(1119.8,340.22) scale(1.113,1)" font-size="29.6" text-anchor="end" >-10</text>
<text transform="translate(1119.8,260.49) scale(1.113,1)" font-size="29.6" text-anchor="end" >0</text>
<text transform="translate(1119.8,180.76) scale(1.113,1)" font-size="29.6" text-anchor="end" >10</text>
<text transform="translate(1119.8,101.03) scale(1.113,1)" font-size="29.6" text-anchor="end" >20</text>
<text transform="translate(1119.8,21.3) scale(1.113,1)" font-size="29.6" text-anchor="end" >30</text>
<text transform="translate(1142.5,691.3) scale(1.06,1)" font-size="28.2" text-anchor="middle" >0</text>
<text transform="translate(1265.77,691.3) scale(1.06,1)" font-size="28.2" text-anchor="middle" >50</text>
<text transform="translate(1389.04,691.3) scale(1.06,1)" font-size="28.2" text-anchor="middle" >100</text>
<text transform="translate(1512.31,691.3) scale(1.06,1)" font-size="28.2" text-anchor="middle" >150</text>
<text transform="translate(1635.58,691.3) scale(1.06,1)" font-size="28.2" text-anchor="middle" >200</text>
<text transform="translate(1758.85,691.3) scale(1.06,1)" font-size="28.2" text-anchor="middle" >250</text>
<text transform="translate(1882.12,691.3) scale(1.06,1)" font-size="28.2" text-anchor="middle" >300</text>
<text transform="translate(2005.39,691.3) scale(1.06,1)" font-size="28.2" text-anchor="middle" >350</text>
<text transform="translate(1147,45) scale(1.094,1)" font-size="36" text-anchor="start" >(b)</text>
<text transform="translate(1031.6,316.6) rotate(-90) scale(1,1.1)" font-size="33.5" text-anchor="middle" font-weight="bold" >A (kJ/mol)</text>
<text transform="translate(1574.2,746.8) scale(1.1,1)" font-size="35.8" text-anchor="middle" font-weight="bold" >T (K)</text>
<line x1="1677" y1="97.9" x2="1759" y2="97.9" stroke="#ff0000" stroke-width="5.5"/>
<line x1="1677" y1="146.3" x2="1759" y2="146.3" stroke="#0000ff" stroke-width="5.5"/>
<text transform="translate(1767.7,109.2) scale(1.051,1)" font-size="34.5" text-anchor="start" font-weight="bold" >Cs</text>
<text transform="translate(1808,118.6) scale(1.33,1)" font-size="18.8" text-anchor="start" font-weight="bold" >2</text>
<text transform="translate(1820.5,109.2) scale(1.051,1)" font-size="34.5" text-anchor="start" font-weight="bold" >LiGaBr</text>
<text transform="translate(1941.38,118.3) scale(1.2,1)" font-size="21.3" text-anchor="start" font-weight="bold" >6</text>
<text transform="translate(1767.7,157.8) scale(1.051,1)" font-size="34.5" text-anchor="start" font-weight="bold" >Cs</text>
<text transform="translate(1808,167.2) scale(1.33,1)" font-size="18.8" text-anchor="start" font-weight="bold" >2</text>
<text transform="translate(1820.5,157.8) scale(1.051,1)" font-size="34.5" text-anchor="start" font-weight="bold" >NaGaBr</text>
<text transform="translate(1951.43,166.9) scale(1.2,1)" font-size="21.3" text-anchor="start" font-weight="bold" >6</text>
<rect x="139.8" y="826.6" width="837.4" height="632.7" fill="#f8d0b8"/>
<path d="M139.8 1459.3 L142.19 1459.3 L144.58 1459.3 L146.97 1459.3 L149.36 1459.3 L151.76 1459.3 L154.15 1459.3 L156.54 1459.3 L158.93 1459.29 L161.32 1459.28 L163.71 1459.24 L166.1 1459.16 L168.49 1459.04 L170.89 1458.86 L173.28 1458.61 L175.67 1458.28 L178.06 1457.86 L180.45 1457.36 L182.84 1456.77 L185.23 1456.11 L187.62 1455.36 L190.02 1454.53 L192.41 1453.62 L194.8 1452.65 L197.19 1451.6 L199.58 1450.48 L201.97 1449.3 L204.36 1448.06 L206.75 1446.75 L209.15 1445.38 L211.54 1443.95 L213.93 1442.46 L216.32 1440.9 L218.71 1439.29 L221.1 1437.62 L223.49 1435.89 L225.88 1434.1 L228.28 1432.26 L230.67 1430.36 L233.06 1428.4 L235.45 1426.4 L237.84 1424.34 L240.23 1422.23 L242.62 1420.07 L245.01 1417.86 L247.41 1415.61 L249.8 1413.31 L252.19 1410.97 L254.58 1408.59 L256.97 1406.18 L259.36 1403.72 L261.75 1401.23 L264.14 1398.71 L266.54 1396.15 L268.93 1393.57 L271.32 1390.96 L273.71 1388.32 L276.1 1385.66 L278.49 1382.98 L280.88 1380.27 L283.27 1377.55 L285.67 1374.8 L288.06 1372.04 L290.45 1369.27 L292.84 1366.48 L295.23 1363.68 L297.62 1360.87 L300.01 1358.05 L302.4 1355.22 L304.79 1352.39 L307.19 1349.54 L309.58 1346.7 L311.97 1343.84 L314.36 1340.99 L316.75 1338.13 L319.14 1335.27 L321.53 1332.41 L323.92 1329.55 L326.32 1326.69 L328.71 1323.83 L331.1 1320.98 L333.49 1318.12 L335.88 1315.27 L338.27 1312.43 L340.66 1309.58 L343.05 1306.75 L345.45 1303.92 L347.84 1301.09 L350.23 1298.27 L352.62 1295.46 L355.01 1292.65 L357.4 1289.85 L359.79 1287.06 L362.18 1284.28 L364.58 1281.51 L366.97 1278.74 L369.36 1275.98 L371.75 1273.23 L374.14 1270.49 L376.53 1267.76 L378.92 1265.04 L381.31 1262.33 L383.71 1259.63 L386.1 1256.94 L388.49 1254.26 L390.88 1251.59 L393.27 1248.93 L395.66 1246.28 L398.05 1243.65 L400.44 1241.02 L402.84 1238.4 L405.23 1235.8 L407.62 1233.2 L410.01 1230.62 L412.4 1228.04 L414.79 1225.48 L417.18 1222.93 L419.57 1220.39 L421.97 1217.86 L424.36 1215.34 L426.75 1212.83 L429.14 1210.34 L431.53 1207.85 L433.92 1205.38 L436.31 1202.91 L438.7 1200.46 L441.1 1198.02 L443.49 1195.59 L445.88 1193.17 L448.27 1190.76 L450.66 1188.37 L453.05 1185.98 L455.44 1183.6 L457.83 1181.24 L460.22 1178.88 L462.62 1176.54 L465.01 1174.21 L467.4 1171.89 L469.79 1169.57 L472.18 1167.27 L474.57 1164.98 L476.96 1162.7 L479.35 1160.43 L481.75 1158.17 L484.14 1155.92 L486.53 1153.68 L488.92 1151.45 L491.31 1149.24 L493.7 1147.03 L496.09 1144.83 L498.48 1142.64 L500.88 1140.46 L503.27 1138.29 L505.66 1136.13 L508.05 1133.98 L510.44 1131.84 L512.83 1129.71 L515.22 1127.59 L517.61 1125.48 L520.01 1123.37 L522.4 1121.28 L524.79 1119.2 L527.18 1117.12 L529.57 1115.06 L531.96 1113 L534.35 1110.95 L536.74 1108.91 L539.14 1106.88 L541.53 1104.86 L543.92 1102.85 L546.31 1100.85 L548.7 1098.85 L551.09 1096.86 L553.48 1094.89 L555.87 1092.92 L558.27 1090.96 L560.66 1089 L563.05 1087.06 L565.44 1085.12 L567.83 1083.19 L570.22 1081.27 L572.61 1079.36 L575 1077.46 L577.4 1075.56 L579.79 1073.67 L582.18 1071.79 L584.57 1069.92 L586.96 1068.06 L589.35 1066.2 L591.74 1064.35 L594.13 1062.51 L596.53 1060.67 L598.92 1058.85 L601.31 1057.03 L603.7 1055.21 L606.09 1053.41 L608.48 1051.61 L610.87 1049.82 L613.26 1048.04 L615.65 1046.26 L618.05 1044.49 L620.44 1042.73 L622.83 1040.97 L625.22 1039.22 L627.61 1037.48 L630 1035.74 L632.39 1034.02 L634.78 1032.29 L637.18 1030.58 L639.57 1028.87 L641.96 1027.17 L644.35 1025.47 L646.74 1023.78 L649.13 1022.1 L651.52 1020.42 L653.91 1018.75 L656.31 1017.09 L658.7 1015.43 L661.09 1013.78 L663.48 1012.14 L665.87 1010.5 L668.26 1008.86 L670.65 1007.24 L673.04 1005.62 L675.44 1004 L677.83 1002.39 L680.22 1000.79 L682.61 999.19 L685 997.6 L687.39 996.01 L689.78 994.43 L692.17 992.86 L694.57 991.29 L696.96 989.73 L699.35 988.17 L701.74 986.62 L704.13 985.07 L706.52 983.53 L708.91 981.99 L711.3 980.46 L713.7 978.94 L716.09 977.42 L718.48 975.9 L720.87 974.39 L723.26 972.89 L725.65 971.39 L728.04 969.89 L730.43 968.4 L732.83 966.92 L735.22 965.44 L737.61 963.97 L740 962.5 L742.39 961.04 L744.78 959.58 L747.17 958.12 L749.56 956.67 L751.96 955.23 L754.35 953.79 L756.74 952.35 L759.13 950.92 L761.52 949.5 L763.91 948.08 L766.3 946.66 L768.69 945.25 L771.08 943.84 L773.48 942.44 L775.87 941.04 L778.26 939.65 L780.65 938.26 L783.04 936.87 L785.43 935.49 L787.82 934.12 L790.21 932.75 L792.61 931.38 L795 930.02 L797.39 928.66 L799.78 927.3 L802.17 925.95 L804.56 924.61 L806.95 923.26 L809.34 921.93 L811.74 920.59 L814.13 919.26 L816.52 917.94 L818.91 916.62 L821.3 915.3 L823.69 913.99 L826.08 912.68 L828.47 911.37 L830.87 910.07 L833.26 908.77 L835.65 907.48 L838.04 906.19 L840.43 904.9 L842.82 903.62 L845.21 902.34 L847.6 901.07 L850 899.8 L852.39 898.53 L854.78 897.27 L857.17 896.01 L859.56 894.75 L861.95 893.5 L864.34 892.25 L866.73 891.01 L869.13 889.77 L871.52 888.53 L873.91 887.29 L876.3 886.06 L878.69 884.84 L881.08 883.61 L883.47 882.39" fill="none" stroke="#ff0000" stroke-width="5.4" stroke-linejoin="round"/>
<path d="M139.8 1459.3 L142.19 1459.3 L144.58 1459.3 L146.97 1459.3 L149.36 1459.3 L151.76 1459.3 L154.15 1459.3 L156.54 1459.3 L158.93 1459.29 L161.32 1459.28 L163.71 1459.24 L166.1 1459.16 L168.49 1459.04 L170.89 1458.86 L173.28 1458.61 L175.67 1458.28 L178.06 1457.87 L180.45 1457.37 L182.84 1456.79 L185.23 1456.12 L187.62 1455.37 L190.02 1454.55 L192.41 1453.65 L194.8 1452.68 L197.19 1451.64 L199.58 1450.53 L201.97 1449.35 L204.36 1448.11 L206.75 1446.81 L209.15 1445.45 L211.54 1444.02 L213.93 1442.53 L216.32 1440.99 L218.71 1439.38 L221.1 1437.72 L223.49 1436 L225.88 1434.22 L228.28 1432.38 L230.67 1430.49 L233.06 1428.55 L235.45 1426.55 L237.84 1424.5 L240.23 1422.4 L242.62 1420.25 L245.01 1418.05 L247.41 1415.81 L249.8 1413.53 L252.19 1411.2 L254.58 1408.83 L256.97 1406.42 L259.36 1403.98 L261.75 1401.5 L264.14 1398.99 L266.54 1396.45 L268.93 1393.88 L271.32 1391.28 L273.71 1388.65 L276.1 1386 L278.49 1383.33 L280.88 1380.64 L283.27 1377.93 L285.67 1375.2 L288.06 1372.45 L290.45 1369.69 L292.84 1366.92 L295.23 1364.13 L297.62 1361.33 L300.01 1358.52 L302.4 1355.71 L304.79 1352.89 L307.19 1350.06 L309.58 1347.22 L311.97 1344.38 L314.36 1341.54 L316.75 1338.7 L319.14 1335.85 L321.53 1333 L323.92 1330.16 L326.32 1327.31 L328.71 1324.46 L331.1 1321.62 L333.49 1318.78 L335.88 1315.95 L338.27 1313.11 L340.66 1310.28 L343.05 1307.46 L345.45 1304.64 L347.84 1301.83 L350.23 1299.02 L352.62 1296.22 L355.01 1293.43 L357.4 1290.65 L359.79 1287.87 L362.18 1285.1 L364.58 1282.34 L366.97 1279.58 L369.36 1276.84 L371.75 1274.1 L374.14 1271.38 L376.53 1268.66 L378.92 1265.95 L381.31 1263.26 L383.71 1260.57 L386.1 1257.89 L388.49 1255.22 L390.88 1252.56 L393.27 1249.92 L395.66 1247.28 L398.05 1244.66 L400.44 1242.04 L402.84 1239.43 L405.23 1236.84 L407.62 1234.26 L410.01 1231.69 L412.4 1229.12 L414.79 1226.57 L417.18 1224.03 L419.57 1221.5 L421.97 1218.99 L424.36 1216.48 L426.75 1213.99 L429.14 1211.5 L431.53 1209.03 L433.92 1206.56 L436.31 1204.11 L438.7 1201.67 L441.1 1199.24 L443.49 1196.82 L445.88 1194.42 L448.27 1192.02 L450.66 1189.63 L453.05 1187.26 L455.44 1184.89 L457.83 1182.54 L460.22 1180.2 L462.62 1177.86 L465.01 1175.54 L467.4 1173.23 L469.79 1170.93 L472.18 1168.64 L474.57 1166.36 L476.96 1164.09 L479.35 1161.83 L481.75 1159.58 L484.14 1157.34 L486.53 1155.11 L488.92 1152.89 L491.31 1150.69 L493.7 1148.49 L496.09 1146.3 L498.48 1144.12 L500.88 1141.95 L503.27 1139.79 L505.66 1137.64 L508.05 1135.5 L510.44 1133.37 L512.83 1131.25 L515.22 1129.14 L517.61 1127.04 L520.01 1124.94 L522.4 1122.86 L524.79 1120.79 L527.18 1118.72 L529.57 1116.67 L531.96 1114.62 L534.35 1112.58 L536.74 1110.55 L539.14 1108.53 L541.53 1106.52 L543.92 1104.52 L546.31 1102.52 L548.7 1100.54 L551.09 1098.56 L553.48 1096.59 L555.87 1094.63 L558.27 1092.68 L560.66 1090.74 L563.05 1088.8 L565.44 1086.87 L567.83 1084.95 L570.22 1083.04 L572.61 1081.14 L575 1079.24 L577.4 1077.36 L579.79 1075.48 L582.18 1073.61 L584.57 1071.74 L586.96 1069.89 L589.35 1068.04 L591.74 1066.2 L594.13 1064.36 L596.53 1062.54 L598.92 1060.72 L601.31 1058.91 L603.7 1057.1 L606.09 1055.31 L608.48 1053.52 L610.87 1051.73 L613.26 1049.96 L615.65 1048.19 L618.05 1046.43 L620.44 1044.68 L622.83 1042.93 L625.22 1041.19 L627.61 1039.45 L630 1037.73 L632.39 1036.01 L634.78 1034.29 L637.18 1032.58 L639.57 1030.88 L641.96 1029.19 L644.35 1027.5 L646.74 1025.82 L649.13 1024.15 L651.52 1022.48 L653.91 1020.82 L656.31 1019.16 L658.7 1017.51 L661.09 1015.87 L663.48 1014.23 L665.87 1012.6 L668.26 1010.97 L670.65 1009.35 L673.04 1007.74 L675.44 1006.13 L677.83 1004.53 L680.22 1002.93 L682.61 1001.34 L685 999.76 L687.39 998.18 L689.78 996.61 L692.17 995.04 L694.57 993.48 L696.96 991.92 L699.35 990.37 L701.74 988.83 L704.13 987.29 L706.52 985.75 L708.91 984.22 L711.3 982.7 L713.7 981.18 L716.09 979.67 L718.48 978.16 L720.87 976.66 L723.26 975.16 L725.65 973.67 L728.04 972.18 L730.43 970.7 L732.83 969.22 L735.22 967.75 L737.61 966.29 L740 964.82 L742.39 963.37 L744.78 961.91 L747.17 960.47 L749.56 959.02 L751.96 957.59 L754.35 956.15 L756.74 954.72 L759.13 953.3 L761.52 951.88 L763.91 950.47 L766.3 949.06 L768.69 947.65 L771.08 946.25 L773.48 944.86 L775.87 943.46 L778.26 942.08 L780.65 940.7 L783.04 939.32 L785.43 937.94 L787.82 936.57 L790.21 935.21 L792.61 933.85 L795 932.49 L797.39 931.14 L799.78 929.79 L802.17 928.45 L804.56 927.11 L806.95 925.77 L809.34 924.44 L811.74 923.11 L814.13 921.79 L816.52 920.47 L818.91 919.16 L821.3 917.84 L823.69 916.54 L826.08 915.23 L828.47 913.93 L830.87 912.64 L833.26 911.35 L835.65 910.06 L838.04 908.78 L840.43 907.5 L842.82 906.22 L845.21 904.95 L847.6 903.68 L850 902.42 L852.39 901.15 L854.78 899.9 L857.17 898.64 L859.56 897.39 L861.95 896.15 L864.34 894.9 L866.73 893.67 L869.13 892.43 L871.52 891.2 L873.91 889.97 L876.3 888.74 L878.69 887.52 L881.08 886.31 L883.47 885.09" fill="none" stroke="#0000ff" stroke-width="4" stroke-linejoin="round"/>
<line x1="139.8" y1="825.1" x2="139.8" y2="1460.8" stroke="#000" stroke-width="3"/>
<line x1="977.2" y1="825.1" x2="977.2" y2="1460.8" stroke="#000" stroke-width="3"/>
<line x1="138.3" y1="826.6" x2="978.7" y2="826.6" stroke="#000" stroke-width="3"/>
<line x1="138.3" y1="1459.3" x2="978.7" y2="1459.3" stroke="#000" stroke-width="3"/>
<line x1="126.8" y1="1459.3" x2="139.8" y2="1459.3" stroke="#000" stroke-width="3"/>
<line x1="133.3" y1="1422.09" x2="139.8" y2="1422.09" stroke="#000" stroke-width="3"/>
<line x1="126.8" y1="1384.88" x2="139.8" y2="1384.88" stroke="#000" stroke-width="3"/>
<line x1="133.3" y1="1347.68" x2="139.8" y2="1347.68" stroke="#000" stroke-width="3"/>
<line x1="126.8" y1="1310.47" x2="139.8" y2="1310.47" stroke="#000" stroke-width="3"/>
<line x1="133.3" y1="1273.26" x2="139.8" y2="1273.26" stroke="#000" stroke-width="3"/>
<line x1="126.8" y1="1236.05" x2="139.8" y2="1236.05" stroke="#000" stroke-width="3"/>
<line x1="133.3" y1="1198.85" x2="139.8" y2="1198.85" stroke="#000" stroke-width="3"/>
<line x1="126.8" y1="1161.64" x2="139.8" y2="1161.64" stroke="#000" stroke-width="3"/>
<line x1="133.3" y1="1124.43" x2="139.8" y2="1124.43" stroke="#000" stroke-width="3"/>
<line x1="126.8" y1="1087.22" x2="139.8" y2="1087.22" stroke="#000" stroke-width="3"/>
<line x1="133.3" y1="1050.02" x2="139.8" y2="1050.02" stroke="#000" stroke-width="3"/>
<line x1="126.8" y1="1012.81" x2="139.8" y2="1012.81" stroke="#000" stroke-width="3"/>
<line x1="133.3" y1="975.6" x2="139.8" y2="975.6" stroke="#000" stroke-width="3"/>
<line x1="126.8" y1="938.39" x2="139.8" y2="938.39" stroke="#000" stroke-width="3"/>
<line x1="133.3" y1="901.19" x2="139.8" y2="901.19" stroke="#000" stroke-width="3"/>
<line x1="126.8" y1="863.98" x2="139.8" y2="863.98" stroke="#000" stroke-width="3"/>
<line x1="970.7" y1="1421.67" x2="977.2" y2="1421.67" stroke="#000" stroke-width="3"/>
<line x1="964.2" y1="1384.05" x2="977.2" y2="1384.05" stroke="#000" stroke-width="3"/>
<line x1="970.7" y1="1346.42" x2="977.2" y2="1346.42" stroke="#000" stroke-width="3"/>
<line x1="964.2" y1="1308.8" x2="977.2" y2="1308.8" stroke="#000" stroke-width="3"/>
<line x1="970.7" y1="1271.17" x2="977.2" y2="1271.17" stroke="#000" stroke-width="3"/>
<line x1="964.2" y1="1233.55" x2="977.2" y2="1233.55" stroke="#000" stroke-width="3"/>
<line x1="970.7" y1="1195.92" x2="977.2" y2="1195.92" stroke="#000" stroke-width="3"/>
<line x1="964.2" y1="1158.3" x2="977.2" y2="1158.3" stroke="#000" stroke-width="3"/>
<line x1="970.7" y1="1120.67" x2="977.2" y2="1120.67" stroke="#000" stroke-width="3"/>
<line x1="964.2" y1="1083.05" x2="977.2" y2="1083.05" stroke="#000" stroke-width="3"/>
<line x1="970.7" y1="1045.42" x2="977.2" y2="1045.42" stroke="#000" stroke-width="3"/>
<line x1="964.2" y1="1007.8" x2="977.2" y2="1007.8" stroke="#000" stroke-width="3"/>
<line x1="970.7" y1="970.17" x2="977.2" y2="970.17" stroke="#000" stroke-width="3"/>
<line x1="964.2" y1="932.55" x2="977.2" y2="932.55" stroke="#000" stroke-width="3"/>
<line x1="970.7" y1="894.92" x2="977.2" y2="894.92" stroke="#000" stroke-width="3"/>
<line x1="964.2" y1="857.3" x2="977.2" y2="857.3" stroke="#000" stroke-width="3"/>
<line x1="139.8" y1="1459.3" x2="139.8" y2="1472.3" stroke="#000" stroke-width="3"/>
<line x1="199.6" y1="1459.3" x2="199.6" y2="1465.8" stroke="#000" stroke-width="3"/>
<line x1="259.4" y1="1459.3" x2="259.4" y2="1472.3" stroke="#000" stroke-width="3"/>
<line x1="319.2" y1="1459.3" x2="319.2" y2="1465.8" stroke="#000" stroke-width="3"/>
<line x1="379" y1="1459.3" x2="379" y2="1472.3" stroke="#000" stroke-width="3"/>
<line x1="438.8" y1="1459.3" x2="438.8" y2="1465.8" stroke="#000" stroke-width="3"/>
<line x1="498.6" y1="1459.3" x2="498.6" y2="1472.3" stroke="#000" stroke-width="3"/>
<line x1="558.4" y1="1459.3" x2="558.4" y2="1465.8" stroke="#000" stroke-width="3"/>
<line x1="618.2" y1="1459.3" x2="618.2" y2="1472.3" stroke="#000" stroke-width="3"/>
<line x1="678" y1="1459.3" x2="678" y2="1465.8" stroke="#000" stroke-width="3"/>
<line x1="737.8" y1="1459.3" x2="737.8" y2="1472.3" stroke="#000" stroke-width="3"/>
<line x1="797.6" y1="1459.3" x2="797.6" y2="1465.8" stroke="#000" stroke-width="3"/>
<line x1="857.4" y1="1459.3" x2="857.4" y2="1472.3" stroke="#000" stroke-width="3"/>
<line x1="917.2" y1="1459.3" x2="917.2" y2="1465.8" stroke="#000" stroke-width="3"/>
<line x1="977" y1="1459.3" x2="977" y2="1472.3" stroke="#000" stroke-width="3"/>
<line x1="199.6" y1="826.6" x2="199.6" y2="833.1" stroke="#000" stroke-width="3"/>
<line x1="259.4" y1="826.6" x2="259.4" y2="839.6" stroke="#000" stroke-width="3"/>
<line x1="319.2" y1="826.6" x2="319.2" y2="833.1" stroke="#000" stroke-width="3"/>
<line x1="379" y1="826.6" x2="379" y2="839.6" stroke="#000" stroke-width="3"/>
<line x1="438.8" y1="826.6" x2="438.8" y2="833.1" stroke="#000" stroke-width="3"/>
<line x1="498.6" y1="826.6" x2="498.6" y2="839.6" stroke="#000" stroke-width="3"/>
<line x1="558.4" y1="826.6" x2="558.4" y2="833.1" stroke="#000" stroke-width="3"/>
<line x1="618.2" y1="826.6" x2="618.2" y2="839.6" stroke="#000" stroke-width="3"/>
<line x1="678" y1="826.6" x2="678" y2="833.1" stroke="#000" stroke-width="3"/>
<line x1="737.8" y1="826.6" x2="737.8" y2="839.6" stroke="#000" stroke-width="3"/>
<line x1="797.6" y1="826.6" x2="797.6" y2="833.1" stroke="#000" stroke-width="3"/>
<line x1="857.4" y1="826.6" x2="857.4" y2="839.6" stroke="#000" stroke-width="3"/>
<line x1="917.2" y1="826.6" x2="917.2" y2="833.1" stroke="#000" stroke-width="3"/>
<text transform="translate(116.9,1468.5) scale(1.02,1)" font-size="30.7" text-anchor="end" >0</text>
<text transform="translate(116.9,1394.09) scale(1.02,1)" font-size="30.7" text-anchor="end" >50</text>
<text transform="translate(116.9,1319.67) scale(1.02,1)" font-size="30.7" text-anchor="end" >100</text>
<text transform="translate(116.9,1245.25) scale(1.02,1)" font-size="30.7" text-anchor="end" >150</text>
<text transform="translate(116.9,1170.84) scale(1.02,1)" font-size="30.7" text-anchor="end" >200</text>
<text transform="translate(116.9,1096.42) scale(1.02,1)" font-size="30.7" text-anchor="end" >250</text>
<text transform="translate(116.9,1022.01) scale(1.02,1)" font-size="30.7" text-anchor="end" >300</text>
<text transform="translate(116.9,947.6) scale(1.02,1)" font-size="30.7" text-anchor="end" >350</text>
<text transform="translate(116.9,873.18) scale(1.02,1)" font-size="30.7" text-anchor="end" >400</text>
<text transform="translate(139.8,1503.2) scale(1.05,1)" font-size="30.1" text-anchor="middle" >0</text>
<text transform="translate(259.4,1503.2) scale(1.05,1)" font-size="30.1" text-anchor="middle" >50</text>
<text transform="translate(379,1503.2) scale(1.05,1)" font-size="30.1" text-anchor="middle" >100</text>
<text transform="translate(498.6,1503.2) scale(1.05,1)" font-size="30.1" text-anchor="middle" >150</text>
<text transform="translate(618.2,1503.2) scale(1.05,1)" font-size="30.1" text-anchor="middle" >200</text>
<text transform="translate(737.8,1503.2) scale(1.05,1)" font-size="30.1" text-anchor="middle" >250</text>
<text transform="translate(857.4,1503.2) scale(1.05,1)" font-size="30.1" text-anchor="middle" >300</text>
<text transform="translate(977,1503.2) scale(1.05,1)" font-size="30.1" text-anchor="middle" >350</text>
<text transform="translate(152,881.3) scale(1.027,1)" font-size="41.3" text-anchor="start" >(c)</text>
<text transform="translate(25,1126) rotate(-90) scale(1,1.12)" font-size="33" text-anchor="middle" font-weight="bold" >S<tspan font-size="22" dy="8.5">v</tspan><tspan dy="-8.5"> (J/mol/K)</tspan></text>
<text transform="translate(558.8,1556.7) scale(1.072,1)" font-size="29.6" text-anchor="middle" font-weight="bold" >T (K)</text>
<line x1="665.8" y1="1302.8" x2="745.8" y2="1302.8" stroke="#ff0000" stroke-width="5.3"/>
<line x1="665.8" y1="1351" x2="745.8" y2="1351" stroke="#0000ff" stroke-width="4"/>
<text transform="translate(754,1314.5) scale(1.044,1)" font-size="33.7" text-anchor="start" font-weight="bold" >Cs</text>
<text transform="translate(793.1,1323.5) scale(1.33,1)" font-size="18.8" text-anchor="start" font-weight="bold" >2</text>
<text transform="translate(805.6,1314.5) scale(1.044,1)" font-size="33.7" text-anchor="start" font-weight="bold" >LiGaBr</text>
<text transform="translate(922.89,1323.4) scale(1.2,1)" font-size="21.3" text-anchor="start" font-weight="bold" >6</text>
<text transform="translate(754,1362.8) scale(1.044,1)" font-size="33.7" text-anchor="start" font-weight="bold" >Cs</text>
<text transform="translate(793.1,1371.8) scale(1.33,1)" font-size="18.8" text-anchor="start" font-weight="bold" >2</text>
<text transform="translate(805.6,1362.8) scale(1.044,1)" font-size="33.7" text-anchor="start" font-weight="bold" >NaGaBr</text>
<text transform="translate(932.65,1371.7) scale(1.2,1)" font-size="21.3" text-anchor="start" font-weight="bold" >6</text>
<rect x="1167.7" y="819.4" width="837.7" height="639.1" fill="#c8d7ee"/>
<path d="M1167.7 1458.5 L1170.49 1458.5 L1173.28 1458.5 L1176.08 1458.44 L1178.87 1458.24 L1181.66 1457.87 L1184.45 1457.41 L1187.24 1456.92 L1190.04 1456.42 L1192.83 1455.9 L1195.62 1455.3 L1198.41 1454.57 L1201.2 1453.64 L1204 1452.47 L1206.79 1451.03 L1209.58 1449.3 L1212.37 1447.29 L1215.16 1445 L1217.96 1442.43 L1220.75 1439.62 L1223.54 1436.6 L1226.33 1433.39 L1229.12 1429.94 L1231.92 1426.25 L1234.71 1422.28 L1237.5 1418.01 L1240.29 1413.39 L1243.08 1408.47 L1245.88 1403.31 L1248.67 1397.96 L1251.46 1392.49 L1254.25 1386.86 L1257.04 1381.04 L1259.84 1375.05 L1262.63 1368.89 L1265.42 1362.58 L1268.21 1356.13 L1271 1349.57 L1273.8 1342.91 L1276.59 1336.16 L1279.38 1329.34 L1282.17 1322.47 L1284.96 1315.57 L1287.76 1308.63 L1290.55 1301.69 L1293.34 1294.75 L1296.13 1287.82 L1298.92 1280.92 L1301.72 1274.05 L1304.51 1267.23 L1307.3 1260.46 L1310.09 1253.77 L1312.88 1247.16 L1315.68 1240.64 L1318.47 1234.22 L1321.26 1227.89 L1324.05 1221.67 L1326.84 1215.54 L1329.64 1209.52 L1332.43 1203.6 L1335.22 1197.79 L1338.01 1192.08 L1340.8 1186.47 L1343.6 1180.97 L1346.39 1175.57 L1349.18 1170.27 L1351.97 1165.07 L1354.76 1159.97 L1357.56 1154.96 L1360.35 1150.05 L1363.14 1145.23 L1365.93 1140.49 L1368.72 1135.84 L1371.52 1131.28 L1374.31 1126.79 L1377.1 1122.38 L1379.89 1118.04 L1382.68 1113.77 L1385.48 1109.57 L1388.27 1105.44 L1391.06 1101.38 L1393.85 1097.4 L1396.64 1093.48 L1399.44 1089.64 L1402.23 1085.87 L1405.02 1082.17 L1407.81 1078.54 L1410.6 1074.99 L1413.4 1071.51 L1416.19 1068.11 L1418.98 1064.78 L1421.77 1061.53 L1424.56 1058.35 L1427.36 1055.25 L1430.15 1052.22 L1432.94 1049.27 L1435.73 1046.4 L1438.52 1043.6 L1441.32 1040.89 L1444.11 1038.25 L1446.9 1035.69 L1449.69 1033.2 L1452.48 1030.75 L1455.28 1028.36 L1458.07 1026.01 L1460.86 1023.72 L1463.65 1021.48 L1466.44 1019.28 L1469.24 1017.13 L1472.03 1015.02 L1474.82 1012.96 L1477.61 1010.94 L1480.4 1008.96 L1483.2 1007.02 L1485.99 1005.12 L1488.78 1003.26 L1491.57 1001.43 L1494.36 999.65 L1497.16 997.9 L1499.95 996.18 L1502.74 994.5 L1505.53 992.85 L1508.32 991.24 L1511.12 989.65 L1513.91 988.1 L1516.7 986.58 L1519.49 985.09 L1522.28 983.64 L1525.08 982.23 L1527.87 980.85 L1530.66 979.5 L1533.45 978.18 L1536.24 976.89 L1539.04 975.63 L1541.83 974.4 L1544.62 973.19 L1547.41 972.01 L1550.2 970.85 L1553 969.72 L1555.79 968.61 L1558.58 967.52 L1561.37 966.45 L1564.16 965.39 L1566.96 964.36 L1569.75 963.34 L1572.54 962.33 L1575.33 961.35 L1578.12 960.37 L1580.92 959.41 L1583.71 958.45 L1586.5 957.51 L1589.29 956.59 L1592.08 955.68 L1594.88 954.78 L1597.67 953.9 L1600.46 953.04 L1603.25 952.19 L1606.04 951.35 L1608.84 950.53 L1611.63 949.72 L1614.42 948.93 L1617.21 948.14 L1620 947.37 L1622.8 946.61 L1625.59 945.87 L1628.38 945.13 L1631.17 944.41 L1633.96 943.69 L1636.76 942.99 L1639.55 942.3 L1642.34 941.61 L1645.13 940.94 L1647.92 940.28 L1650.72 939.62 L1653.51 938.98 L1656.3 938.34 L1659.09 937.71 L1661.88 937.09 L1664.68 936.48 L1667.47 935.87 L1670.26 935.27 L1673.05 934.68 L1675.84 934.1 L1678.64 933.52 L1681.43 932.96 L1684.22 932.4 L1687.01 931.85 L1689.8 931.3 L1692.6 930.76 L1695.39 930.24 L1698.18 929.71 L1700.97 929.2 L1703.76 928.7 L1706.56 928.2 L1709.35 927.71 L1712.14 927.23 L1714.93 926.75 L1717.72 926.29 L1720.52 925.83 L1723.31 925.38 L1726.1 924.94 L1728.89 924.5 L1731.68 924.07 L1734.48 923.65 L1737.27 923.24 L1740.06 922.83 L1742.85 922.43 L1745.64 922.03 L1748.44 921.64 L1751.23 921.26 L1754.02 920.88 L1756.81 920.51 L1759.6 920.14 L1762.4 919.78 L1765.19 919.42 L1767.98 919.07 L1770.77 918.73 L1773.56 918.39 L1776.36 918.05 L1779.15 917.72 L1781.94 917.39 L1784.73 917.07 L1787.52 916.75 L1790.32 916.44 L1793.11 916.13 L1795.9 915.82 L1798.69 915.52 L1801.48 915.22 L1804.28 914.93 L1807.07 914.64 L1809.86 914.35 L1812.65 914.07 L1815.44 913.79 L1818.24 913.51 L1821.03 913.24 L1823.82 912.97 L1826.61 912.7 L1829.4 912.43 L1832.2 912.17 L1834.99 911.91 L1837.78 911.65 L1840.57 911.4 L1843.36 911.15 L1846.16 910.9 L1848.95 910.65 L1851.74 910.41 L1854.53 910.16 L1857.32 909.92 L1860.12 909.68 L1862.91 909.45 L1865.7 909.21 L1868.49 908.98 L1871.28 908.75 L1874.08 908.52 L1876.87 908.29 L1879.66 908.07 L1882.45 907.84 L1885.24 907.62 L1888.04 907.4 L1890.83 907.19 L1893.62 906.97 L1896.41 906.76 L1899.2 906.55 L1902 906.34 L1904.79 906.14 L1907.58 905.93 L1910.37 905.73 L1913.16 905.53 L1915.96 905.33 L1918.75 905.13 L1921.54 904.94 L1924.33 904.74 L1927.12 904.55 L1929.92 904.36 L1932.71 904.18 L1935.5 903.99 L1938.29 903.81 L1941.08 903.62 L1943.88 903.44 L1946.67 903.27 L1949.46 903.09 L1952.25 902.92 L1955.04 902.74 L1957.84 902.57 L1960.63 902.4 L1963.42 902.24 L1966.21 902.07 L1969 901.91 L1971.8 901.75 L1974.59 901.59 L1977.38 901.43 L1980.17 901.27 L1982.96 901.12 L1985.76 900.97 L1988.55 900.82 L1991.34 900.67 L1994.13 900.52 L1996.92 900.38 L1999.72 900.23 L2002.51 900.09 L2005.3 899.95" fill="none" stroke="#0000ff" stroke-width="7.4" stroke-linejoin="round" stroke-dasharray="10.3 16.7"/>
<path d="M1167.7 1458.5 L1170.49 1458.5 L1173.28 1458.5 L1176.08 1458.48 L1178.87 1458.33 L1181.66 1458.02 L1184.45 1457.58 L1187.24 1457.09 L1190.04 1456.6 L1192.83 1456.09 L1195.62 1455.53 L1198.41 1454.85 L1201.2 1454 L1204 1452.92 L1206.79 1451.58 L1209.58 1449.96 L1212.37 1448.05 L1215.16 1445.85 L1217.96 1443.39 L1220.75 1440.66 L1223.54 1437.71 L1226.33 1434.57 L1229.12 1431.21 L1231.92 1427.61 L1234.71 1423.75 L1237.5 1419.59 L1240.29 1415.09 L1243.08 1410.28 L1245.88 1405.19 L1248.67 1399.91 L1251.46 1394.47 L1254.25 1388.91 L1257.04 1383.16 L1259.84 1377.23 L1262.63 1371.12 L1265.42 1364.87 L1268.21 1358.47 L1271 1351.95 L1273.8 1345.32 L1276.59 1338.6 L1279.38 1331.81 L1282.17 1324.95 L1284.96 1318.06 L1287.76 1311.13 L1290.55 1304.19 L1293.34 1297.24 L1296.13 1290.31 L1298.92 1283.4 L1301.72 1276.52 L1304.51 1269.68 L1307.3 1262.89 L1310.09 1256.17 L1312.88 1249.53 L1315.68 1242.98 L1318.47 1236.52 L1321.26 1230.16 L1324.05 1223.9 L1326.84 1217.73 L1329.64 1211.67 L1332.43 1205.72 L1335.22 1199.87 L1338.01 1194.12 L1340.8 1188.48 L1343.6 1182.94 L1346.39 1177.5 L1349.18 1172.17 L1351.97 1166.93 L1354.76 1161.8 L1357.56 1156.76 L1360.35 1151.81 L1363.14 1146.95 L1365.93 1142.19 L1368.72 1137.51 L1371.52 1132.91 L1374.31 1128.4 L1377.1 1123.96 L1379.89 1119.59 L1382.68 1115.3 L1385.48 1111.07 L1388.27 1106.92 L1391.06 1102.84 L1393.85 1098.82 L1396.64 1094.88 L1399.44 1091.01 L1402.23 1087.22 L1405.02 1083.49 L1407.81 1079.84 L1410.6 1076.26 L1413.4 1072.76 L1416.19 1069.33 L1418.98 1065.97 L1421.77 1062.69 L1424.56 1059.48 L1427.36 1056.35 L1430.15 1053.3 L1432.94 1050.32 L1435.73 1047.42 L1438.52 1044.6 L1441.32 1041.86 L1444.11 1039.19 L1446.9 1036.61 L1449.69 1034.09 L1452.48 1031.62 L1455.28 1029.21 L1458.07 1026.85 L1460.86 1024.54 L1463.65 1022.28 L1466.44 1020.06 L1469.24 1017.9 L1472.03 1015.77 L1474.82 1013.69 L1477.61 1011.66 L1480.4 1009.66 L1483.2 1007.71 L1485.99 1005.8 L1488.78 1003.92 L1491.57 1002.09 L1494.36 1000.29 L1497.16 998.52 L1499.95 996.8 L1502.74 995.1 L1505.53 993.44 L1508.32 991.81 L1511.12 990.22 L1513.91 988.66 L1516.7 987.12 L1519.49 985.62 L1522.28 984.16 L1525.08 982.73 L1527.87 981.34 L1530.66 979.98 L1533.45 978.65 L1536.24 977.35 L1539.04 976.08 L1541.83 974.84 L1544.62 973.62 L1547.41 972.43 L1550.2 971.27 L1553 970.13 L1555.79 969.01 L1558.58 967.91 L1561.37 966.83 L1564.16 965.77 L1566.96 964.73 L1569.75 963.7 L1572.54 962.69 L1575.33 961.7 L1578.12 960.72 L1580.92 959.75 L1583.71 958.8 L1586.5 957.85 L1589.29 956.92 L1592.08 956 L1594.88 955.1 L1597.67 954.22 L1600.46 953.35 L1603.25 952.49 L1606.04 951.65 L1608.84 950.82 L1611.63 950.01 L1614.42 949.21 L1617.21 948.42 L1620 947.65 L1622.8 946.88 L1625.59 946.13 L1628.38 945.39 L1631.17 944.67 L1633.96 943.95 L1636.76 943.24 L1639.55 942.54 L1642.34 941.86 L1645.13 941.18 L1647.92 940.51 L1650.72 939.86 L1653.51 939.21 L1656.3 938.57 L1659.09 937.94 L1661.88 937.31 L1664.68 936.7 L1667.47 936.09 L1670.26 935.49 L1673.05 934.89 L1675.84 934.31 L1678.64 933.73 L1681.43 933.16 L1684.22 932.6 L1687.01 932.04 L1689.8 931.5 L1692.6 930.96 L1695.39 930.42 L1698.18 929.9 L1700.97 929.38 L1703.76 928.88 L1706.56 928.38 L1709.35 927.88 L1712.14 927.4 L1714.93 926.92 L1717.72 926.45 L1720.52 925.99 L1723.31 925.54 L1726.1 925.09 L1728.89 924.66 L1731.68 924.23 L1734.48 923.8 L1737.27 923.39 L1740.06 922.97 L1742.85 922.57 L1745.64 922.17 L1748.44 921.78 L1751.23 921.4 L1754.02 921.02 L1756.81 920.64 L1759.6 920.27 L1762.4 919.91 L1765.19 919.55 L1767.98 919.2 L1770.77 918.85 L1773.56 918.51 L1776.36 918.17 L1779.15 917.84 L1781.94 917.51 L1784.73 917.18 L1787.52 916.86 L1790.32 916.55 L1793.11 916.24 L1795.9 915.93 L1798.69 915.63 L1801.48 915.33 L1804.28 915.03 L1807.07 914.74 L1809.86 914.45 L1812.65 914.17 L1815.44 913.89 L1818.24 913.61 L1821.03 913.33 L1823.82 913.06 L1826.61 912.79 L1829.4 912.53 L1832.2 912.26 L1834.99 912 L1837.78 911.75 L1840.57 911.49 L1843.36 911.24 L1846.16 910.99 L1848.95 910.74 L1851.74 910.49 L1854.53 910.25 L1857.32 910.01 L1860.12 909.77 L1862.91 909.53 L1865.7 909.3 L1868.49 909.06 L1871.28 908.83 L1874.08 908.6 L1876.87 908.37 L1879.66 908.15 L1882.45 907.92 L1885.24 907.7 L1888.04 907.48 L1890.83 907.27 L1893.62 907.05 L1896.41 906.84 L1899.2 906.63 L1902 906.42 L1904.79 906.21 L1907.58 906 L1910.37 905.8 L1913.16 905.6 L1915.96 905.4 L1918.75 905.2 L1921.54 905.01 L1924.33 904.81 L1927.12 904.62 L1929.92 904.43 L1932.71 904.24 L1935.5 904.06 L1938.29 903.87 L1941.08 903.69 L1943.88 903.51 L1946.67 903.33 L1949.46 903.15 L1952.25 902.98 L1955.04 902.81 L1957.84 902.63 L1960.63 902.46 L1963.42 902.3 L1966.21 902.13 L1969 901.97 L1971.8 901.81 L1974.59 901.64 L1977.38 901.49 L1980.17 901.33 L1982.96 901.17 L1985.76 901.02 L1988.55 900.87 L1991.34 900.72 L1994.13 900.57 L1996.92 900.43 L1999.72 900.28 L2002.51 900.14 L2005.3 900" fill="none" stroke="#ff0000" stroke-width="4" stroke-linejoin="round"/>
<line x1="1171.7" y1="899.7" x2="2005" y2="899.7" stroke="#000" stroke-width="3.5" stroke-dasharray="9 5.7"/>
<line x1="1167.7" y1="817.9" x2="1167.7" y2="1460" stroke="#000" stroke-width="3"/>
<line x1="2005.4" y1="817.9" x2="2005.4" y2="1460" stroke="#000" stroke-width="3"/>
<line x1="1166.2" y1="819.4" x2="2006.9" y2="819.4" stroke="#000" stroke-width="3"/>
<line x1="1166.2" y1="1458.5" x2="2006.9" y2="1458.5" stroke="#000" stroke-width="3"/>
<line x1="1154" y1="1458.5" x2="1167.7" y2="1458.5" stroke="#000" stroke-width="3"/>
<line x1="1161.2" y1="1400.42" x2="1167.7" y2="1400.42" stroke="#000" stroke-width="3"/>
<line x1="1154" y1="1342.34" x2="1167.7" y2="1342.34" stroke="#000" stroke-width="3"/>
<line x1="1161.2" y1="1284.26" x2="1167.7" y2="1284.26" stroke="#000" stroke-width="3"/>
<line x1="1154" y1="1226.18" x2="1167.7" y2="1226.18" stroke="#000" stroke-width="3"/>
<line x1="1161.2" y1="1168.1" x2="1167.7" y2="1168.1" stroke="#000" stroke-width="3"/>
<line x1="1154" y1="1110.02" x2="1167.7" y2="1110.02" stroke="#000" stroke-width="3"/>
<line x1="1161.2" y1="1051.94" x2="1167.7" y2="1051.94" stroke="#000" stroke-width="3"/>
<line x1="1154" y1="993.86" x2="1167.7" y2="993.86" stroke="#000" stroke-width="3"/>
<line x1="1161.2" y1="935.78" x2="1167.7" y2="935.78" stroke="#000" stroke-width="3"/>
<line x1="1154" y1="877.7" x2="1167.7" y2="877.7" stroke="#000" stroke-width="3"/>
<line x1="1161.2" y1="819.62" x2="1167.7" y2="819.62" stroke="#000" stroke-width="3"/>
<line x1="1998.9" y1="1394.6" x2="2005.4" y2="1394.6" stroke="#000" stroke-width="3"/>
<line x1="1992.9" y1="1330.7" x2="2005.4" y2="1330.7" stroke="#000" stroke-width="3"/>
<line x1="1998.9" y1="1266.8" x2="2005.4" y2="1266.8" stroke="#000" stroke-width="3"/>
<line x1="1992.9" y1="1202.9" x2="2005.4" y2="1202.9" stroke="#000" stroke-width="3"/>
<line x1="1998.9" y1="1139" x2="2005.4" y2="1139" stroke="#000" stroke-width="3"/>
<line x1="1992.9" y1="1075.1" x2="2005.4" y2="1075.1" stroke="#000" stroke-width="3"/>
<line x1="1998.9" y1="1011.2" x2="2005.4" y2="1011.2" stroke="#000" stroke-width="3"/>
<line x1="1992.9" y1="947.3" x2="2005.4" y2="947.3" stroke="#000" stroke-width="3"/>
<line x1="1998.9" y1="883.4" x2="2005.4" y2="883.4" stroke="#000" stroke-width="3"/>
<line x1="1167.7" y1="1458.5" x2="1167.7" y2="1471" stroke="#000" stroke-width="3"/>
<line x1="1237.5" y1="1458.5" x2="1237.5" y2="1465" stroke="#000" stroke-width="3"/>
<line x1="1307.3" y1="1458.5" x2="1307.3" y2="1471" stroke="#000" stroke-width="3"/>
<line x1="1377.1" y1="1458.5" x2="1377.1" y2="1465" stroke="#000" stroke-width="3"/>
<line x1="1446.9" y1="1458.5" x2="1446.9" y2="1471" stroke="#000" stroke-width="3"/>
<line x1="1516.7" y1="1458.5" x2="1516.7" y2="1465" stroke="#000" stroke-width="3"/>
<line x1="1586.5" y1="1458.5" x2="1586.5" y2="1471" stroke="#000" stroke-width="3"/>
<line x1="1656.3" y1="1458.5" x2="1656.3" y2="1465" stroke="#000" stroke-width="3"/>
<line x1="1726.1" y1="1458.5" x2="1726.1" y2="1471" stroke="#000" stroke-width="3"/>
<line x1="1795.9" y1="1458.5" x2="1795.9" y2="1465" stroke="#000" stroke-width="3"/>
<line x1="1865.7" y1="1458.5" x2="1865.7" y2="1471" stroke="#000" stroke-width="3"/>
<line x1="1935.5" y1="1458.5" x2="1935.5" y2="1465" stroke="#000" stroke-width="3"/>
<line x1="2005.3" y1="1458.5" x2="2005.3" y2="1471" stroke="#000" stroke-width="3"/>
<line x1="1251.47" y1="819.4" x2="1251.47" y2="825.9" stroke="#000" stroke-width="3"/>
<line x1="1335.24" y1="819.4" x2="1335.24" y2="831.9" stroke="#000" stroke-width="3"/>
<line x1="1419.01" y1="819.4" x2="1419.01" y2="825.9" stroke="#000" stroke-width="3"/>
<line x1="1502.78" y1="819.4" x2="1502.78" y2="831.9" stroke="#000" stroke-width="3"/>
<line x1="1586.55" y1="819.4" x2="1586.55" y2="825.9" stroke="#000" stroke-width="3"/>
<line x1="1670.32" y1="819.4" x2="1670.32" y2="831.9" stroke="#000" stroke-width="3"/>
<line x1="1754.09" y1="819.4" x2="1754.09" y2="825.9" stroke="#000" stroke-width="3"/>
<line x1="1837.86" y1="819.4" x2="1837.86" y2="831.9" stroke="#000" stroke-width="3"/>
<line x1="1921.63" y1="819.4" x2="1921.63" y2="825.9" stroke="#000" stroke-width="3"/>
<text transform="translate(1145.3,1467.4) scale(1.02,1)" font-size="30.7" text-anchor="end" >0</text>
<text transform="translate(1145.3,1351.24) scale(1.02,1)" font-size="30.7" text-anchor="end" >50</text>
<text transform="translate(1145.3,1235.08) scale(1.02,1)" font-size="30.7" text-anchor="end" >100</text>
<text transform="translate(1145.3,1118.92) scale(1.02,1)" font-size="30.7" text-anchor="end" >150</text>
<text transform="translate(1145.3,1002.76) scale(1.02,1)" font-size="30.7" text-anchor="end" >200</text>
<text transform="translate(1145.3,886.6) scale(1.02,1)" font-size="30.7" text-anchor="end" >250</text>
<text transform="translate(1168.5,1495.5) scale(1.02,1)" font-size="30.7" text-anchor="middle" >0</text>
<text transform="translate(1308.1,1495.5) scale(1.02,1)" font-size="30.7" text-anchor="middle" >50</text>
<text transform="translate(1447.7,1495.5) scale(1.02,1)" font-size="30.7" text-anchor="middle" >100</text>
<text transform="translate(1587.3,1495.5) scale(1.02,1)" font-size="30.7" text-anchor="middle" >150</text>
<text transform="translate(1726.9,1495.5) scale(1.02,1)" font-size="30.7" text-anchor="middle" >200</text>
<text transform="translate(1866.5,1495.5) scale(1.02,1)" font-size="30.7" text-anchor="middle" >250</text>
<text transform="translate(2006.1,1495.5) scale(1.02,1)" font-size="30.7" text-anchor="middle" >300</text>
<text transform="translate(1186.5,874) scale(1.06,1)" font-size="40" text-anchor="start" >(d)</text>
<text transform="translate(1343.1,889.5) scale(1.07,1)" font-size="32.9" text-anchor="start" >Dulong Petit's Limit</text>
<text transform="translate(1052.5,1120.5) rotate(-90) scale(1,1.13)" font-size="33.3" text-anchor="middle" font-weight="bold" >C<tspan font-size="23.8" dy="8.4">V</tspan><tspan dy="-8.4"> (J/K/mol)</tspan></text>
<text transform="translate(1587.3,1556.8) scale(1.042,1)" font-size="34" text-anchor="middle" font-weight="bold" >T (K)</text>
<line x1="1671.6" y1="1284.1" x2="1738.6" y2="1284.1" stroke="#0000ff" stroke-width="7.2" stroke-dasharray="10.7 17.4"/>
<line x1="1671.6" y1="1332.8" x2="1751.7" y2="1332.8" stroke="#ff0000" stroke-width="4.2"/>
<text transform="translate(1760,1295.7) scale(1.052,1)" font-size="33.4" text-anchor="start" font-weight="bold" >Cs</text>
<text transform="translate(1799.05,1304.7) scale(1.33,1)" font-size="18.8" text-anchor="start" font-weight="bold" >2</text>
<text transform="translate(1811.55,1295.7) scale(1.052,1)" font-size="33.4" text-anchor="start" font-weight="bold" >LiGaBr</text>
<text transform="translate(1928.69,1304.7) scale(1.2,1)" font-size="21.3" text-anchor="start" font-weight="bold" >6</text>
<text transform="translate(1760,1344) scale(1.052,1)" font-size="33.4" text-anchor="start" font-weight="bold" >Cs</text>
<text transform="translate(1799.05,1353) scale(1.33,1)" font-size="18.8" text-anchor="start" font-weight="bold" >2</text>
<text transform="translate(1811.55,1344) scale(1.052,1)" font-size="33.4" text-anchor="start" font-weight="bold" >NaGaBr</text>
<text transform="translate(1938.43,1353) scale(1.2,1)" font-size="21.3" text-anchor="start" font-weight="bold" >6</text>
</svg></body></html>
